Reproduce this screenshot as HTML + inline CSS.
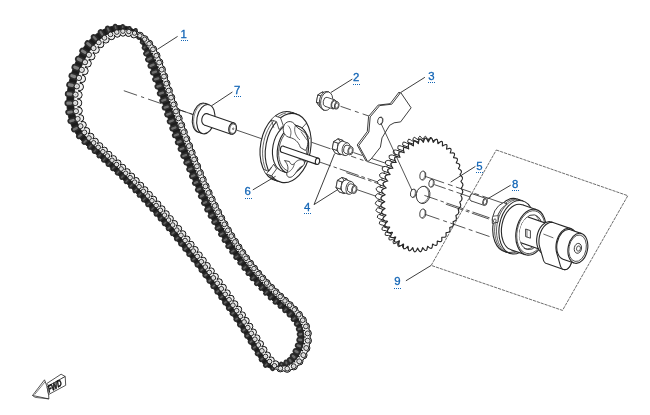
<!DOCTYPE html>
<html><head><meta charset="utf-8"><title>Cam chain parts diagram</title>
<style>
html,body{margin:0;padding:0;background:#fff;}
body{width:650px;height:415px;overflow:hidden;}
svg{display:block;}
.lb{font-family:"Liberation Sans",Arial,sans-serif;font-size:11.4px;fill:#1466b6;stroke:#1466b6;stroke-width:0.3px;}
.fwd{font-family:"Liberation Sans",Arial,sans-serif;font-size:7.5px;font-weight:bold;font-style:italic;fill:#111;}
</style></head><body>
<svg width="650" height="415" viewBox="0 0 650 415">
<defs><filter id="noLcd" x="0" y="0" width="650" height="415" filterUnits="userSpaceOnUse" color-interpolation-filters="sRGB"><feOffset dx="0" dy="0"/></filter></defs>
<rect width="650" height="415" fill="#fff"/>
<line x1="123.8" y1="90.7" x2="194.71" y2="115.12" stroke="#282828" stroke-width="0.8" stroke-dasharray="14 4.2 3.3 4.2"/><line x1="174" y1="108" x2="193" y2="114.5" stroke="#282828" stroke-width="0.8"/><line x1="236.9" y1="130.2" x2="265.27" y2="139.97" stroke="#282828" stroke-width="0.8"/><line x1="319.39" y1="161.95" x2="330.74" y2="165.86" stroke="#282828" stroke-width="0.8"/><line x1="333.57" y1="166.83" x2="388.41" y2="185.72" stroke="#282828" stroke-width="0.8" stroke-dasharray="3.5 3 20 3 3.5 3 14 40"/><line x1="346.37" y1="172.67" x2="388.91" y2="187.32" stroke="#282828" stroke-width="0.8" stroke-dasharray="20 3 3.5 3 14 40"/><line x1="298.36" y1="137.74" x2="330.51" y2="148.81" stroke="#282828" stroke-width="0.8" stroke-dasharray="10 4 30"/><line x1="340.5" y1="106.3" x2="378.32" y2="119.32" stroke="#282828" stroke-width="0.8" stroke-dasharray="11 4.2 4 4.2"/><line x1="353.4" y1="152.5" x2="362.38" y2="155.59" stroke="#282828" stroke-width="0.8"/><line x1="351.1" y1="156.2" x2="364.34" y2="160.76" stroke="#282828" stroke-width="0.8" stroke-dasharray="5.4 3.8 3.8 10"/><line x1="367.7" y1="161.7" x2="387.5" y2="168" stroke="#282828" stroke-width="0.8"/><line x1="372" y1="158.6" x2="388.5" y2="164.2" stroke="#282828" stroke-width="0.8"/><line x1="357.1" y1="189.7" x2="378.85" y2="197.19" stroke="#282828" stroke-width="0.8"/>
<ellipse cx="201.45" cy="117.7" rx="8.88" ry="14.8" transform="rotate(11 201.45 117.7)" fill="#fff" stroke="#282828" stroke-width="1.1" /><path d="M205 103.37L209.35 104.87L202.25 133.53L197.9 132.04Z" fill="#fff" stroke="none"/><path d="M205 103.37L209.35 104.87M197.9 132.04L202.25 133.53" fill="none" stroke="#282828" stroke-width="1.1"/><ellipse cx="205.8" cy="119.2" rx="8.88" ry="14.8" transform="rotate(11 205.8 119.2)" fill="#fff" stroke="#282828" stroke-width="1.1" /><path d="M198.48 132.17L197.57 131.59L196.73 130.83L195.97 129.89L195.3 128.8L194.74 127.56L194.28 126.2L193.94 124.73L193.72 123.16L193.62 121.53L193.64 119.86L193.79 118.16L194.06 116.46L194.44 114.79L194.94 113.16L195.55 111.6L196.25 110.12L197.04 108.76L197.91 107.52L198.85 106.43L199.83 105.49L200.86 104.73L201.91 104.15L202.98 103.75L204.04 103.56" fill="none" stroke="#282828" stroke-width="0.6"/><ellipse cx="205.65" cy="119.32" rx="3.83" ry="5.8" transform="rotate(11 205.65 119.32)" fill="#fff" stroke="#282828" stroke-width="1.1" /><path d="M207.1 113.72L234.05 123L231.15 134.2L204.2 124.92Z" fill="#fff" stroke="none"/><path d="M207.1 113.72L234.05 123M204.2 124.92L231.15 134.2" fill="none" stroke="#282828" stroke-width="1.1"/><ellipse cx="232.6" cy="128.6" rx="3.83" ry="5.8" transform="rotate(11 232.6 128.6)" fill="#fff" stroke="#282828" stroke-width="1.1" /><ellipse cx="232.9" cy="128.7" rx="3.1" ry="4.7" transform="rotate(11 232.9 128.7)" fill="#fff" stroke="#282828" stroke-width="0.7" /><ellipse cx="233.2" cy="128.8" rx="0.63" ry="0.9" transform="rotate(11 233.2 128.8)" fill="#fff" stroke="#282828" stroke-width="0.6" />
<ellipse cx="283" cy="146.21" rx="22.4" ry="35" transform="rotate(11 283 146.21)" fill="#fff" stroke="#282828" stroke-width="1.1" /><path d="M291.62 112.37L296.82 114.16L279.58 181.84L274.38 180.05Z" fill="#fff" stroke="none"/><path d="M291.62 112.37L296.82 114.16M274.38 180.05L279.58 181.84" fill="none" stroke="#282828" stroke-width="1.1"/><ellipse cx="288.2" cy="148" rx="22.4" ry="35" transform="rotate(11 288.2 148)" fill="#fff" stroke="#282828" stroke-width="1.1" /><path d="M276.98 180.94L274.57 179.87L272.3 178.36L270.21 176.42L268.33 174.09L266.68 171.39L265.28 168.36L264.16 165.05L263.33 161.49L262.8 157.73L262.58 153.84L262.67 149.85L263.07 145.82L263.77 141.82L264.76 137.88L266.04 134.07L267.58 130.43L269.37 127.02L271.37 123.88L273.57 121.06L275.92 118.58L278.41 116.49L281 114.82L283.64 113.58L286.31 112.8" fill="none" stroke="#282828" stroke-width="0.7"/><path d="M271.3 119.85L276.5 121.64L279.06 129.52L283.28 125.51L280.49 117.84L275.29 116.05" fill="#fff" stroke="#282828" stroke-width="0.8" stroke-linejoin="round" /><line x1="271.3" y1="119.85" x2="273.86" y2="127.73" stroke="#282828" stroke-width="0.7"/><path d="M266.36 174.01L271.56 175.8L276.59 168.89L273.72 164.18L268.84 171.35L263.64 169.56" fill="#fff" stroke="#282828" stroke-width="0.8" stroke-linejoin="round" /><line x1="266.36" y1="174.01" x2="271.39" y2="167.1" stroke="#282828" stroke-width="0.7"/><path d="M306.65 122.92L301.19 128.99" fill="none" stroke="#282828" stroke-width="0.8" stroke-linejoin="round" /><ellipse cx="288.2" cy="148" rx="15.36" ry="24" transform="rotate(11 288.2 148)" fill="#fff" stroke="#282828" stroke-width="1.1" /><path d="M294.11 124.8L298.84 126.43L287.02 172.83L282.29 171.2Z" fill="#fff" stroke="none"/><path d="M294.11 124.8L298.84 126.43M282.29 171.2L287.02 172.83" fill="none" stroke="#282828" stroke-width="1.1"/><ellipse cx="292.93" cy="149.63" rx="15.36" ry="24" transform="rotate(11 292.93 149.63)" fill="#fff" stroke="#282828" stroke-width="1.1" /><ellipse cx="292.93" cy="149.63" rx="13.95" ry="21.8" transform="rotate(11 292.93 149.63)" fill="#fff" stroke="#282828" stroke-width="0.75" /><g transform="translate(-0.07 0.03)"><path d="M283.5 127 C285 120.5 292.5 119.5 295.5 125.5 C298.5 129.5 302.5 130 305.5 133.5 C309 138.5 308.5 146 305.5 150.5 L300.5 147.5 C298.5 141.5 294.5 138.5 290 137.5 C285 136.5 282.5 132 283.5 127Z" fill="#fff" stroke="#282828" stroke-width="0.85"/><path d="M295.5 125.5 C293.5 130.5 295.5 136 300 140 M290 137.5 C292 132.5 291 128.5 288 125.5" fill="none" stroke="#282828" stroke-width="0.7"/><path d="M301 131.5 L307.5 140.5 M304 129.5 L310 139" fill="none" stroke="#282828" stroke-width="0.7"/><path d="M284.5 160.5 C288 164 289 168.5 287 172.5 C286 176.5 289 178.5 292.5 176.5 C296.5 173.5 297.5 168.5 301.5 166.5 C304.5 165.5 305.5 162.5 303.5 160.5 C300.5 158.5 296.5 160.5 294.5 163.5 C292.5 165.5 290.5 164.5 289.5 161.5Z" fill="#fff" stroke="#282828" stroke-width="0.85"/><path d="M287 172.5 C290.5 171.5 293.5 168.5 294.5 163.5" fill="none" stroke="#282828" stroke-width="0.7"/></g><ellipse cx="282.52" cy="149.25" rx="2.11" ry="3.2" transform="rotate(11 282.52 149.25)" fill="#fff" stroke="#282828" stroke-width="1.1" /><path d="M283.32 146.16L318.3 158.21L316.7 164.39L281.72 152.34Z" fill="#fff" stroke="none"/><path d="M283.32 146.16L318.3 158.21M281.72 152.34L316.7 164.39" fill="none" stroke="#282828" stroke-width="1.1"/><ellipse cx="317.5" cy="161.3" rx="2.11" ry="3.2" transform="rotate(11 317.5 161.3)" fill="#fff" stroke="#282828" stroke-width="1.1" />
<path d="M324.22 103.64L319.61 106.51L316.42 102.12L317.83 94.86L322.44 91.98L325.63 96.37Z" fill="#fff" stroke="#282828" stroke-width="0.8" stroke-linejoin="round" /><path d="M324.22 103.64L319.61 106.51L324.34 108.14L328.95 105.26Z" fill="#fff" stroke="#282828" stroke-width="0.8" stroke-linejoin="round" /><path d="M319.61 106.51L316.42 102.12L321.15 103.75L324.34 108.14Z" fill="#fff" stroke="#282828" stroke-width="0.8" stroke-linejoin="round" /><path d="M316.42 102.12L317.83 94.86L322.56 96.48L321.15 103.75Z" fill="#fff" stroke="#282828" stroke-width="0.8" stroke-linejoin="round" /><path d="M317.83 94.86L322.44 91.98L327.17 93.61L322.56 96.48Z" fill="#fff" stroke="#282828" stroke-width="0.8" stroke-linejoin="round" /><path d="M322.44 91.98L325.63 96.37L330.36 98L327.17 93.61Z" fill="#fff" stroke="#282828" stroke-width="0.8" stroke-linejoin="round" /><path d="M325.63 96.37L324.22 103.64L328.95 105.26L330.36 98Z" fill="#fff" stroke="#282828" stroke-width="0.8" stroke-linejoin="round" /><path d="M328.95 105.26L324.34 108.14L321.15 103.75L322.56 96.48L327.17 93.61L330.36 98Z" fill="#fff" stroke="#282828" stroke-width="0.8" stroke-linejoin="round" /><ellipse cx="325.38" cy="100.74" rx="5.92" ry="9.4" transform="rotate(11 325.38 100.74)" fill="#fff" stroke="#282828" stroke-width="0.8" /><path d="M327.68 91.65L329 92.11L324.4 110.29L323.08 109.84Z" fill="#fff" stroke="none"/><path d="M327.68 91.65L329 92.11M323.08 109.84L324.4 110.29" fill="none" stroke="#282828" stroke-width="0.8"/><ellipse cx="326.7" cy="101.2" rx="5.92" ry="9.4" transform="rotate(11 326.7 101.2)" fill="#fff" stroke="#282828" stroke-width="0.8" /><ellipse cx="326.1" cy="101.8" rx="2.85" ry="4.6" transform="rotate(11 326.1 101.8)" fill="#fff" stroke="#282828" stroke-width="0.8" /><path d="M327.22 97.35L335.07 100.05L332.83 108.95L324.98 106.25Z" fill="#fff" stroke="none"/><path d="M327.22 97.35L335.07 100.05M324.98 106.25L332.83 108.95" fill="none" stroke="#282828" stroke-width="0.8"/><ellipse cx="333.95" cy="104.5" rx="2.85" ry="4.6" transform="rotate(11 333.95 104.5)" fill="#fff" stroke="#282828" stroke-width="0.8" /><ellipse cx="333.95" cy="104.5" rx="2.29" ry="3.7" transform="rotate(11 333.95 104.5)" fill="#fff" stroke="#282828" stroke-width="0.8" /><path d="M334.85 100.92L337.68 101.9L335.89 109.06L333.05 108.08Z" fill="#fff" stroke="none"/><path d="M334.85 100.92L337.68 101.9M333.05 108.08L335.89 109.06" fill="none" stroke="#282828" stroke-width="0.8"/><ellipse cx="336.78" cy="105.48" rx="2.29" ry="3.7" transform="rotate(11 336.78 105.48)" fill="#fff" stroke="#282828" stroke-width="0.8" /><ellipse cx="336.78" cy="105.48" rx="1.61" ry="2.6" transform="rotate(11 336.78 105.48)" fill="#fff" stroke="#282828" stroke-width="0.7" />
<path d="M339.94 150.31L335.4 153.15L332.25 148.81L333.64 141.65L338.18 138.81L341.33 143.14Z" fill="#fff" stroke="#282828" stroke-width="0.8" stroke-linejoin="round" /><path d="M339.94 150.31L335.4 153.15L340.12 154.77L344.67 151.94Z" fill="#fff" stroke="#282828" stroke-width="0.8" stroke-linejoin="round" /><path d="M335.4 153.15L332.25 148.81L336.97 150.44L340.12 154.77Z" fill="#fff" stroke="#282828" stroke-width="0.8" stroke-linejoin="round" /><path d="M332.25 148.81L333.64 141.65L338.37 143.28L336.97 150.44Z" fill="#fff" stroke="#282828" stroke-width="0.8" stroke-linejoin="round" /><path d="M333.64 141.65L338.18 138.81L342.91 140.44L338.37 143.28Z" fill="#fff" stroke="#282828" stroke-width="0.8" stroke-linejoin="round" /><path d="M338.18 138.81L341.33 143.14L346.06 144.77L342.91 140.44Z" fill="#fff" stroke="#282828" stroke-width="0.8" stroke-linejoin="round" /><path d="M341.33 143.14L339.94 150.31L344.67 151.94L346.06 144.77Z" fill="#fff" stroke="#282828" stroke-width="0.8" stroke-linejoin="round" /><path d="M344.67 151.94L340.12 154.77L336.97 150.44L338.37 143.28L342.91 140.44L346.06 144.77Z" fill="#fff" stroke="#282828" stroke-width="0.8" stroke-linejoin="round" /><ellipse cx="341.52" cy="147.61" rx="4.03" ry="6.5" transform="rotate(11 341.52 147.61)" fill="#fff" stroke="#282828" stroke-width="0.8" /><path d="M343.1 141.32L347.82 142.95L344.67 155.52L339.94 153.9Z" fill="#fff" stroke="none"/><path d="M343.1 141.32L347.82 142.95M339.94 153.9L344.67 155.52" fill="none" stroke="#282828" stroke-width="0.8"/><ellipse cx="346.25" cy="149.23" rx="4.03" ry="6.5" transform="rotate(11 346.25 149.23)" fill="#fff" stroke="#282828" stroke-width="0.8" /><ellipse cx="346.25" cy="149.23" rx="2.6" ry="4.2" transform="rotate(11 346.25 149.23)" fill="#fff" stroke="#282828" stroke-width="0.8" /><path d="M347.27 145.17L351.52 146.64L349.48 154.76L345.22 153.3Z" fill="#fff" stroke="none"/><path d="M347.27 145.17L351.52 146.64M345.22 153.3L349.48 154.76" fill="none" stroke="#282828" stroke-width="0.8"/><ellipse cx="350.5" cy="150.7" rx="2.6" ry="4.2" transform="rotate(11 350.5 150.7)" fill="#fff" stroke="#282828" stroke-width="0.8" /><ellipse cx="350.5" cy="150.7" rx="1.87" ry="3.02" transform="rotate(11 350.5 150.7)" fill="#fff" stroke="#282828" stroke-width="0.7" /><path d="M343.74 189.01L339.2 191.85L336.05 187.51L337.44 180.35L341.98 177.51L345.13 181.84Z" fill="#fff" stroke="#282828" stroke-width="0.8" stroke-linejoin="round" /><path d="M343.74 189.01L339.2 191.85L343.92 193.47L348.47 190.64Z" fill="#fff" stroke="#282828" stroke-width="0.8" stroke-linejoin="round" /><path d="M339.2 191.85L336.05 187.51L340.77 189.14L343.92 193.47Z" fill="#fff" stroke="#282828" stroke-width="0.8" stroke-linejoin="round" /><path d="M336.05 187.51L337.44 180.35L342.17 181.98L340.77 189.14Z" fill="#fff" stroke="#282828" stroke-width="0.8" stroke-linejoin="round" /><path d="M337.44 180.35L341.98 177.51L346.71 179.14L342.17 181.98Z" fill="#fff" stroke="#282828" stroke-width="0.8" stroke-linejoin="round" /><path d="M341.98 177.51L345.13 181.84L349.86 183.47L346.71 179.14Z" fill="#fff" stroke="#282828" stroke-width="0.8" stroke-linejoin="round" /><path d="M345.13 181.84L343.74 189.01L348.47 190.64L349.86 183.47Z" fill="#fff" stroke="#282828" stroke-width="0.8" stroke-linejoin="round" /><path d="M348.47 190.64L343.92 193.47L340.77 189.14L342.17 181.98L346.71 179.14L349.86 183.47Z" fill="#fff" stroke="#282828" stroke-width="0.8" stroke-linejoin="round" /><ellipse cx="345.32" cy="186.31" rx="4.03" ry="6.5" transform="rotate(11 345.32 186.31)" fill="#fff" stroke="#282828" stroke-width="0.8" /><path d="M346.9 180.02L351.62 181.65L348.47 194.22L343.74 192.6Z" fill="#fff" stroke="none"/><path d="M346.9 180.02L351.62 181.65M343.74 192.6L348.47 194.22" fill="none" stroke="#282828" stroke-width="0.8"/><ellipse cx="350.05" cy="187.93" rx="4.03" ry="6.5" transform="rotate(11 350.05 187.93)" fill="#fff" stroke="#282828" stroke-width="0.8" /><ellipse cx="350.05" cy="187.93" rx="2.6" ry="4.2" transform="rotate(11 350.05 187.93)" fill="#fff" stroke="#282828" stroke-width="0.8" /><path d="M351.07 183.87L355.32 185.34L353.28 193.46L349.02 192Z" fill="#fff" stroke="none"/><path d="M351.07 183.87L355.32 185.34M349.02 192L353.28 193.46" fill="none" stroke="#282828" stroke-width="0.8"/><ellipse cx="354.3" cy="189.4" rx="2.6" ry="4.2" transform="rotate(11 354.3 189.4)" fill="#fff" stroke="#282828" stroke-width="0.8" /><ellipse cx="354.3" cy="189.4" rx="1.87" ry="3.02" transform="rotate(11 354.3 189.4)" fill="#fff" stroke="#282828" stroke-width="0.7" />
<path d="M399.1 92L409.5 107.3L399 121.4L392.6 122.3L388 124.8L380.4 137.4L378.8 146.7L369.5 158.5L366.1 161.2L357.2 145L367.3 131.5L368.6 116.4L378.1 105.1L390.2 103.7Z" fill="#fff" stroke="#282828" stroke-width="0.9" stroke-linejoin="round" /><path d="M400.7 92.5L411.1 107.8L400.6 121.9L394.2 122.8L389.6 125.3L382 137.9L380.4 147.2L371.1 159L367.7 161.7L358.8 145.5L368.9 132L370.2 116.9L379.7 105.6L391.8 104.2Z" fill="#fff" stroke="#282828" stroke-width="0.9" stroke-linejoin="round" /><ellipse cx="380.3" cy="120.8" rx="2.6" ry="3.8" transform="rotate(14 380.3 120.8)" fill="#fff" stroke="#282828" stroke-width="0.8"/><path d="M379.4 117.6 A2.2 3.4 14 0 1 380.6 124.3" fill="none" stroke="#282828" stroke-width="0.6"/>
<ellipse cx="417.33" cy="193.05" rx="37.52" ry="53.6" transform="rotate(11 417.33 193.05)" fill="#fff" stroke="none" stroke-width="0" /><path d="M413.64 246.3L411.39 246.33L409.16 246.18L406.96 245.84L404.8 245.31L402.68 244.61L400.62 243.72L398.61 242.66L396.66 241.42L394.79 240.02L393 238.45L391.29 236.72L389.67 234.85L388.15 232.82L386.73 230.66L385.42 228.36L384.22 225.95L383.13 223.41L382.16 220.78L381.32 218.04L380.6 215.22L380.01 212.32L379.55 209.36L379.22 206.33L379.02 203.26L378.96 200.16L379.03 197.03L379.24 193.89L379.57 190.74L380.04 187.6L380.64 184.48L381.37 181.39L382.22 178.34L383.19 175.34L384.29 172.41L385.5 169.54L386.81 166.76L388.24 164.07L389.77 161.48L391.39 159L393.11 156.64L394.9 154.41L396.78 152.31L398.73 150.35L400.74 148.54L402.81 146.89L404.93 145.4L407.1 144.07L409.3 142.92L411.53 141.93L413.77 141.13L416.03 140.51L418.3 140.07L420.56 139.82L422.81 139.75L425.04 139.87L427.25 140.17L429.42 140.66L431.55 141.33L433.62 142.18L435.65 143.21" fill="none" stroke="#282828" stroke-width="0.85"/><path d="M422.14 249.03L421.67 250.32L420.47 251.69L419.06 250.6L418.39 249.4L412.71 247.45L413.39 248.65L414.79 249.73L415.99 248.37L416.47 247.08Z" fill="#fff" stroke="#282828" stroke-width="1" stroke-linejoin="round" /><path d="M416.93 249.41L416.24 250.64L414.82 251.81L413.66 250.43L413.23 249.07L407.55 247.12L407.98 248.47L409.15 249.86L410.57 248.69L411.26 247.45Z" fill="#fff" stroke="#282828" stroke-width="1" stroke-linejoin="round" /><path d="M411.81 248.8L410.9 249.91L409.29 250.78L408.4 249.19L408.22 247.78L402.55 245.82L402.73 247.23L403.61 248.82L405.22 247.95L406.13 246.85Z" fill="#fff" stroke="#282828" stroke-width="1" stroke-linejoin="round" /><path d="M406.86 247.25L405.76 248.16L404.02 248.69L403.41 246.98L403.47 245.56L397.8 243.61L397.73 245.02L398.35 246.73L400.09 246.2L401.19 245.3Z" fill="#fff" stroke="#282828" stroke-width="1" stroke-linejoin="round" /><path d="M402.2 244.78L400.95 245.46L399.14 245.64L398.79 243.85L399.07 242.46L393.4 240.51L393.11 241.9L393.46 243.69L395.28 243.51L396.53 242.83Z" fill="#fff" stroke="#282828" stroke-width="1" stroke-linejoin="round" /><path d="M397.91 241.45L396.56 241.89L394.72 241.72L394.62 239.89L395.09 238.55L389.42 236.6L388.94 237.93L389.05 239.77L390.88 239.94L392.24 239.49Z" fill="#fff" stroke="#282828" stroke-width="1" stroke-linejoin="round" /><path d="M394.06 237.32L392.65 237.52L390.85 237.03L390.97 235.16L391.6 233.89L385.93 231.94L385.29 233.21L385.18 235.07L386.98 235.56L388.39 235.36Z" fill="#fff" stroke="#282828" stroke-width="1" stroke-linejoin="round" /><path d="M390.72 232.46L389.29 232.44L387.57 231.64L387.89 229.77L388.66 228.57L382.99 226.62L382.21 227.82L381.9 229.69L383.62 230.48L385.05 230.51Z" fill="#fff" stroke="#282828" stroke-width="1" stroke-linejoin="round" /><path d="M387.94 226.98L386.52 226.74L384.91 225.68L385.42 223.81L386.31 222.69L380.64 220.73L379.75 221.86L379.24 223.72L380.85 224.78L382.27 225.02Z" fill="#fff" stroke="#282828" stroke-width="1" stroke-linejoin="round" /><path d="M385.77 220.95L384.39 220.52L382.91 219.23L383.59 217.38L384.59 216.34L378.92 214.38L377.92 215.43L377.24 217.27L378.71 218.57L380.09 219Z" fill="#fff" stroke="#282828" stroke-width="1" stroke-linejoin="round" /><path d="M384.23 214.49L382.91 213.89L381.58 212.4L382.43 210.59L383.53 209.63L377.85 207.68L376.76 208.63L375.91 210.44L377.23 211.93L378.55 212.54Z" fill="#fff" stroke="#282828" stroke-width="1" stroke-linejoin="round" /><path d="M383.35 207.7L382.1 206.95L380.94 205.29L381.95 203.54L383.13 202.68L377.46 200.72L376.28 201.59L375.27 203.34L376.43 204.99L377.67 205.75Z" fill="#fff" stroke="#282828" stroke-width="1" stroke-linejoin="round" /><path d="M383.14 200.7L381.98 199.82L380.99 198.03L382.16 196.36L383.41 195.6L377.73 193.65L376.49 194.41L375.31 196.08L376.3 197.86L377.47 198.75Z" fill="#fff" stroke="#282828" stroke-width="1" stroke-linejoin="round" /><path d="M383.61 193.61L382.53 192.61L381.72 190.73L383.04 189.16L384.35 188.51L378.68 186.56L377.37 187.21L376.05 188.78L376.86 190.66L377.93 191.66Z" fill="#fff" stroke="#282828" stroke-width="1" stroke-linejoin="round" /><path d="M384.74 186.54L383.76 185.45L383.13 183.5L384.58 182.06L385.95 181.53L380.28 179.58L378.91 180.1L377.45 181.54L378.09 183.49L379.06 184.59Z" fill="#fff" stroke="#282828" stroke-width="1" stroke-linejoin="round" /><path d="M386.51 179.61L385.64 178.44L385.18 176.45L386.77 175.16L388.18 174.78L382.51 172.83L381.09 173.21L379.51 174.5L379.97 176.48L380.84 177.66Z" fill="#fff" stroke="#282828" stroke-width="1" stroke-linejoin="round" /><path d="M388.91 172.95L388.14 171.7L387.86 169.7L389.55 168.6L390.99 168.37L385.32 166.42L383.88 166.65L382.19 167.75L382.47 169.75L383.24 170.99Z" fill="#fff" stroke="#282828" stroke-width="1" stroke-linejoin="round" /><path d="M391.88 166.65L391.23 165.35L391.12 163.36L392.9 162.47L394.35 162.41L388.68 160.45L387.23 160.52L385.44 161.4L385.55 163.4L386.21 164.7Z" fill="#fff" stroke="#282828" stroke-width="1" stroke-linejoin="round" /><path d="M395.38 160.83L394.85 159.49L394.91 157.52L396.76 156.87L398.2 156.99L392.53 155.04L391.09 154.92L389.23 155.57L389.17 157.53L389.71 158.88Z" fill="#fff" stroke="#282828" stroke-width="1" stroke-linejoin="round" /><path d="M399.36 155.59L398.95 154.21L399.18 152.29L401.07 151.91L402.47 152.22L396.8 150.27L395.4 149.96L393.51 150.34L393.27 152.26L393.68 153.63Z" fill="#fff" stroke="#282828" stroke-width="1" stroke-linejoin="round" /><path d="M403.74 151.01L403.47 149.61L403.88 147.75L405.77 147.66L407.11 148.17L401.43 146.22L400.1 145.71L398.2 145.8L397.8 147.65L398.06 149.06Z" fill="#fff" stroke="#282828" stroke-width="1" stroke-linejoin="round" /><path d="M408.46 147.18L408.34 145.76L408.94 143.99L410.79 144.21L412.02 144.92L406.35 142.97L405.11 142.25L403.26 142.04L402.67 143.81L402.78 145.23Z" fill="#fff" stroke="#282828" stroke-width="1" stroke-linejoin="round" /><path d="M413.44 144.17L413.5 142.75L414.29 141.09L416.05 141.62L417.14 142.53L411.46 140.58L410.37 139.67L408.61 139.13L407.82 140.8L407.76 142.21Z" fill="#fff" stroke="#282828" stroke-width="1" stroke-linejoin="round" /><path d="M418.59 142.03L418.85 140.63L419.85 139.11L421.46 139.95L422.36 141.05L416.69 139.1L415.79 138L414.17 137.15L413.18 138.68L412.92 140.07Z" fill="#fff" stroke="#282828" stroke-width="1" stroke-linejoin="round" /><path d="M423.84 140.81L424.31 139.47L425.52 138.11L426.93 139.26L427.61 140.51L421.94 138.56L421.26 137.3L419.84 136.16L418.63 137.51L418.16 138.85Z" fill="#fff" stroke="#282828" stroke-width="1" stroke-linejoin="round" /><path d="M429.07 140.53L429.76 139.29L431.18 138.15L432.35 139.56L432.77 140.92L427.1 138.97L426.67 137.6L425.51 136.19L424.09 137.33L423.4 138.58Z" fill="#fff" stroke="#282828" stroke-width="1" stroke-linejoin="round" /><path d="M434.19 141.21L435.1 140.11L436.7 139.26L437.58 140.88L437.76 142.28L432.08 140.33L431.91 138.92L431.03 137.31L429.43 138.16L428.52 139.25Z" fill="#fff" stroke="#282828" stroke-width="1" stroke-linejoin="round" /><path d="M439.1 142.83L440.18 141.97L441.89 141.49L442.49 143.21L442.44 144.58L436.77 142.63L436.81 141.26L436.21 139.54L434.51 140.02L433.43 140.88Z" fill="#fff" stroke="#282828" stroke-width="1" stroke-linejoin="round" /><path d="M459.83 202.16L459.97 202.7L460.18 203.25L460.38 203.81L460.55 204.37L460.65 204.92L460.68 205.45L460.61 205.95L460.44 206.44L460.18 206.9L459.84 207.34L459.43 207.75L459 208.16L458.56 208.55L458.18 208.97L458.28 209.51L458.44 210.09L458.6 210.66L458.73 211.23L458.79 211.79L458.78 212.32L458.67 212.81L458.46 213.28L458.16 213.71L457.77 214.1L457.32 214.47L456.84 214.82L456.35 215.17L455.93 215.53L455.99 216.09L456.12 216.67L456.25 217.27L456.34 217.85L456.37 218.4L456.32 218.93L456.18 219.41L455.93 219.85L455.58 220.24L455.15 220.58L454.66 220.89L454.12 221.17L453.58 221.45L453.11 221.75L453.14 222.31L453.25 222.91L453.35 223.52L453.42 224.11L453.43 224.67L453.35 225.19L453.16 225.65L452.88 226.05L452.49 226.39L452.01 226.66L451.47 226.89L450.88 227.09L450.3 227.28L449.78 227.51L449.79 228.07L449.87 228.69L449.95 229.32L450 229.93L449.98 230.49L449.87 231L449.66 231.44L449.34 231.79L448.91 232.06L448.39 232.26L447.81 232.4L447.18 232.49L446.55 232.58L445.99 232.71L445.98 233.28L446.04 233.93L446.1 234.58L446.12 235.21L446.08 235.78L445.94 236.28L445.7 236.68L445.34 236.98L444.88 237.18L444.33 237.28L443.71 237.3L443.05 237.28L442.39 237.24L441.81 237.27L441.77 237.85L441.8 238.52L441.84 239.21L441.83 239.86L441.75 240.44L441.58 240.93L441.31 241.29L440.93 241.53L440.44 241.65L439.87 241.64L439.24 241.54L438.56 241.37L437.9 241.19L437.31 241.1L437.23 241.7L437.23 242.4L437.22 243.12L437.17 243.8L437.05 244.39L436.84 244.86L436.54 245.19L436.14 245.36L435.64 245.38L435.07 245.25L434.44 245.01L433.78 244.7L433.13 244.37L432.56 244.15L432.44 244.76L432.37 245.5L432.3 246.25L432.19 246.95L432.01 247.55L431.77 248L431.43 248.29L431.02 248.38L430.52 248.29L429.97 248.04L429.38 247.65L428.77 247.19L428.18 246.71L427.65 246.35L427.46 246.97L427.31 247.73L427.15 248.51L426.96 249.23L426.71 249.83L426.41 250.25L426.05 250.48L425.63 250.5L425.16 250.3L424.66 249.92L424.14 249.39L423.62 248.78L423.11 248.16L422.65 247.68L422.39 248.29L422.13 249.06L421.86 249.85L421.56 250.56L421.22 251.14L420.86 251.52L420.47 251.69L420.06 251.62L419.64 251.32L419.21 250.82L418.8 250.17L418.4 249.43L418.03 248.69L417.67 248.1L417.3 248.68L416.92 249.44L416.51 250.2L416.09 250.87L415.66 251.4L415.24 251.72L414.82 251.81L414.43 251.66L414.08 251.27L413.76 250.68L413.48 249.94L413.24 249.1L413.01 248.27L412.77 247.62L412.3 248.14L411.78 248.83L411.24 249.51L410.7 250.1L410.18 250.54L409.71 250.77L409.29 250.78L408.94 250.55L408.66 250.1L408.46 249.46L408.32 248.67L408.23 247.81L408.16 246.95L408.05 246.23L407.48 246.69L406.84 247.27L406.18 247.84L405.54 248.31L404.95 248.63L404.44 248.76L404.02 248.69L403.71 248.4L403.51 247.91L403.42 247.25L403.41 246.46L403.47 245.6L403.55 244.73L403.59 243.97L402.92 244.34L402.17 244.8L401.42 245.23L400.7 245.57L400.07 245.77L399.54 245.8L399.14 245.64L398.87 245.3L398.75 244.78L398.76 244.12L398.87 243.34L399.06 242.5L399.29 241.64L399.46 240.87L398.71 241.13L397.88 241.46L397.05 241.75L396.29 241.95L395.63 242.02L395.1 241.95L394.72 241.72L394.51 241.34L394.46 240.8L394.55 240.15L394.77 239.39L395.08 238.58L395.43 237.75L395.73 236.99L394.91 237.14L394.03 237.32L393.16 237.47L392.38 237.53L391.71 237.49L391.2 237.32L390.85 237.03L390.69 236.6L390.7 236.06L390.87 235.41L391.18 234.69L391.58 233.92L392.04 233.13L392.47 232.38L391.6 232.42L390.69 232.46L389.81 232.47L389.02 232.4L388.37 232.25L387.88 232L387.57 231.64L387.45 231.19L387.52 230.64L387.76 230.01L388.15 229.33L388.64 228.6L389.19 227.86L389.72 227.14L388.83 227.06L387.91 226.97L387.03 226.85L386.26 226.66L385.63 226.41L385.18 226.08L384.91 225.68L384.85 225.2L384.97 224.65L385.27 224.04L385.72 223.39L386.29 222.71L386.92 222.02L387.55 221.35L386.65 221.15L385.73 220.94L384.88 220.7L384.14 220.41L383.54 220.07L383.13 219.68L382.91 219.23L382.89 218.73L383.07 218.18L383.43 217.6L383.94 216.99L384.57 216.36L385.27 215.73L385.99 215.11L385.09 214.8L384.19 214.48L383.37 214.13L382.67 213.75L382.12 213.33L381.75 212.88L381.58 212.4L381.61 211.88L381.84 211.35L382.25 210.79L382.81 210.22L383.5 209.65L384.26 209.08L385.06 208.52L384.17 208.11L383.31 207.69L382.54 207.24L381.88 206.78L381.38 206.3L381.06 205.8L380.94 205.29L381.02 204.78L381.29 204.25L381.75 203.73L382.36 203.21L383.1 202.7L383.92 202.19L384.78 201.7L383.92 201.2L383.11 200.68L382.38 200.16L381.77 199.63L381.33 199.09L381.06 198.56L380.99 198.03L381.12 197.52L381.44 197.02L381.94 196.53L382.59 196.06L383.37 195.62L384.24 195.19L385.15 194.77L384.34 194.18L383.58 193.59L382.9 192.99L382.35 192.4L381.96 191.82L381.74 191.26L381.72 190.73L381.9 190.22L382.26 189.75L382.81 189.31L383.5 188.9L384.32 188.52L385.22 188.17L386.17 187.84L385.42 187.18L384.71 186.51L384.09 185.86L383.6 185.22L383.26 184.61L383.1 184.03L383.13 183.5L383.35 183.01L383.76 182.57L384.34 182.18L385.07 181.84L385.92 181.54L386.85 181.28L387.82 181.03L387.13 180.31L386.49 179.58L385.94 178.88L385.5 178.2L385.22 177.56L385.11 176.97L385.18 176.45L385.45 175.99L385.89 175.59L386.51 175.27L387.27 175L388.14 174.79L389.09 174.61L390.07 174.47L389.46 173.69L388.89 172.91L388.4 172.16L388.02 171.45L387.8 170.8L387.74 170.21L387.86 169.7L388.16 169.27L388.64 168.93L389.29 168.67L390.07 168.49L390.96 168.37L391.91 168.3L392.89 168.25L392.36 167.43L391.86 166.62L391.44 165.83L391.13 165.09L390.96 164.43L390.95 163.84L391.12 163.36L391.46 162.97L391.96 162.69L392.63 162.51L393.42 162.42L394.31 162.4L395.27 162.44L396.22 162.49L395.78 161.65L395.37 160.8L395.02 159.98L394.77 159.22L394.66 158.55L394.7 157.98L394.91 157.52L395.28 157.19L395.81 156.97L396.49 156.88L397.28 156.89L398.16 156.99L399.09 157.14L400.01 157.29L399.67 156.43L399.34 155.55L399.07 154.71L398.9 153.94L398.85 153.27L398.94 152.71L399.18 152.29L399.58 152.01L400.12 151.88L400.8 151.88L401.58 152L402.44 152.21L403.33 152.48L404.19 152.73L403.96 151.87L403.73 150.98L403.54 150.12L403.45 149.34L403.46 148.66L403.6 148.13L403.88 147.75L404.3 147.54L404.84 147.49L405.51 147.59L406.26 147.83L407.07 148.16L407.91 148.55L408.69 148.9L408.58 148.05L408.45 147.14L408.36 146.28L408.35 145.49L408.43 144.83L408.62 144.32L408.94 143.99L409.37 143.85L409.91 143.89L410.54 144.1L411.24 144.45L411.99 144.91L412.74 145.41L413.44 145.85L413.45 145.03L413.44 144.13L413.46 143.26L413.53 142.48L413.69 141.84L413.94 141.36L414.29 141.09L414.72 141.01L415.24 141.15L415.82 141.46L416.46 141.94L417.11 142.51L417.76 143.13L418.35 143.65L418.48 142.87L418.6 141.99L418.74 141.14L418.92 140.37L419.17 139.76L419.47 139.32L419.85 139.11L420.28 139.11L420.75 139.34L421.27 139.76L421.81 140.34L422.34 141.02L422.87 141.73L423.35 142.32L423.6 141.61L423.85 140.77L424.12 139.95L424.42 139.22L424.75 138.64L425.12 138.27L425.52 138.11L425.93 138.2L426.35 138.51L426.78 139.03L427.2 139.71L427.6 140.48L427.97 141.26L428.33 141.9L428.7 141.27L429.09 140.5L429.49 139.73L429.91 139.06L430.34 138.54L430.77 138.23L431.18 138.15L431.57 138.31L431.92 138.7L432.24 139.3L432.52 140.05L432.77 140.89L432.99 141.72L433.23 142.38L433.69 141.86L434.21 141.18L434.75 140.5L435.29 139.91L435.81 139.48L436.28 139.26L436.7 139.26L437.05 139.5L437.32 139.96L437.52 140.61L437.66 141.39L437.75 142.25L437.83 143.09L437.95 143.77L438.5 143.36L439.13 142.81L439.77 142.27L440.4 141.82L440.98 141.52L441.48 141.4L441.89 141.49L442.19 141.79L442.38 142.29L442.47 142.94L442.49 143.72L442.45 144.55L442.39 145.36L442.41 146.03L443.02 145.76L443.72 145.37L444.43 144.99L445.11 144.7L445.72 144.53L446.22 144.53L446.61 144.7L446.86 145.05L446.98 145.56L446.98 146.2L446.9 146.94L446.75 147.72L446.6 148.49L446.54 149.13L447.17 149L447.9 148.78L448.64 148.57L449.33 148.44L449.94 148.41L450.43 148.51L450.78 148.75L450.98 149.14L451.04 149.65L450.98 150.27L450.82 150.97L450.6 151.69L450.39 152.4L450.27 153.01L450.89 153.02L451.61 152.96L452.34 152.92L453.01 152.93L453.59 153.03L454.05 153.22L454.36 153.53L454.52 153.95L454.53 154.47L454.42 155.06L454.21 155.71L453.95 156.38L453.69 157.03L453.53 157.62L454.12 157.75L454.8 157.84L455.49 157.94L456.12 158.08L456.65 158.29L457.06 158.57L457.32 158.94L457.43 159.38L457.41 159.89L457.26 160.46L457.02 161.07L456.74 161.69L456.45 162.3L456.28 162.86L456.8 163.1L457.43 163.31L458.05 163.53L458.62 163.79L459.09 164.09L459.44 164.45L459.66 164.86L459.73 165.32L459.67 165.84L459.5 166.38L459.24 166.96L458.94 167.54L458.65 168.11L458.45 168.65L458.91 168.98L459.46 169.3L460.01 169.62L460.5 169.97L460.91 170.34L461.2 170.76L461.37 171.2L461.4 171.69L461.31 172.2L461.12 172.73L460.85 173.28L460.54 173.83L460.23 174.37L460.01 174.89L460.4 175.3L460.88 175.69L461.34 176.09L461.76 176.51L462.1 176.95L462.33 177.41L462.45 177.88L462.44 178.38L462.33 178.89L462.11 179.41L461.82 179.93L461.5 180.45L461.18 180.97L460.94 181.48L461.26 181.94L461.66 182.39L462.05 182.86L462.39 183.33L462.66 183.81L462.84 184.3L462.91 184.79L462.86 185.3L462.71 185.8L462.47 186.31L462.17 186.81L461.82 187.31L461.49 187.81L461.22 188.3L461.48 188.79L461.8 189.3L462.12 189.8L462.4 190.31L462.6 190.82L462.72 191.34L462.74 191.84L462.66 192.35L462.47 192.84L462.21 193.33L461.88 193.81L461.51 194.29L461.14 194.76L460.85 195.23L461.04 195.75L461.3 196.29L461.56 196.82L461.78 197.36L461.93 197.89L462 198.42L461.97 198.93L461.85 199.43L461.63 199.91L461.32 200.38L460.96 200.83L460.56 201.27L460.16 201.71Z" fill="#fff" stroke="#282828" stroke-width="1.15" stroke-linejoin="round" />
<ellipse cx="422.8" cy="175.6" rx="2.97" ry="4.5" transform="rotate(11 422.8 175.6)" fill="#fff" stroke="#282828" stroke-width="0.8" /><path d="M423.48 171.18L423.76 171.39L424.01 171.64L424.23 171.94L424.43 172.28L424.6 172.65L424.74 173.06L424.84 173.49L424.91 173.95L424.94 174.42L424.93 174.9L424.89 175.38L424.82 175.87L424.7 176.34L424.56 176.81L424.38 177.26L424.18 177.68L423.95 178.08L423.69 178.44L423.41 178.76L423.12 179.05L422.81 179.29L422.48 179.48L422.16 179.62L421.83 179.71" fill="none" stroke="#282828" stroke-width="0.6"/><ellipse cx="431.5" cy="183.3" rx="2.64" ry="4" transform="rotate(11 431.5 183.3)" fill="#fff" stroke="#282828" stroke-width="0.8" /><path d="M432.01 179.34L432.25 179.52L432.47 179.75L432.67 180.02L432.85 180.32L433 180.65L433.12 181.01L433.21 181.39L433.27 181.8L433.3 182.21L433.3 182.64L433.26 183.07L433.19 183.5L433.09 183.93L432.96 184.34L432.81 184.74L432.63 185.12L432.42 185.47L432.19 185.79L431.94 186.08L431.68 186.33L431.41 186.54L431.12 186.72L430.83 186.84L430.53 186.92" fill="none" stroke="#282828" stroke-width="0.6"/><ellipse cx="413.3" cy="193.3" rx="2.84" ry="4.3" transform="rotate(11 413.3 193.3)" fill="#fff" stroke="#282828" stroke-width="0.8" /><path d="M413.91 189.06L414.17 189.26L414.41 189.51L414.63 189.79L414.82 190.11L414.98 190.47L415.11 190.86L415.21 191.27L415.27 191.71L415.3 192.16L415.3 192.62L415.26 193.08L415.19 193.54L415.08 194L414.94 194.44L414.77 194.87L414.58 195.27L414.36 195.65L414.11 196L413.85 196.31L413.56 196.58L413.27 196.81L412.96 196.99L412.65 197.13L412.33 197.22" fill="none" stroke="#282828" stroke-width="0.6"/><ellipse cx="422.8" cy="213.6" rx="3.04" ry="4.6" transform="rotate(11 422.8 213.6)" fill="#fff" stroke="#282828" stroke-width="0.8" /><path d="M423.52 209.09L423.8 209.3L424.05 209.56L424.29 209.87L424.49 210.21L424.66 210.6L424.8 211.01L424.9 211.45L424.97 211.92L425 212.4L425 212.89L424.96 213.38L424.88 213.88L424.77 214.37L424.62 214.84L424.44 215.3L424.23 215.73L423.99 216.14L423.73 216.51L423.45 216.84L423.14 217.13L422.83 217.38L422.5 217.57L422.16 217.72L421.82 217.81" fill="none" stroke="#282828" stroke-width="0.6"/><ellipse cx="423.1" cy="194.9" rx="6.79" ry="8.7" transform="rotate(11 423.1 194.9)" fill="#fff" stroke="#282828" stroke-width="0.85" /><path d="M424.59 186.31L425.3 186.69L425.96 187.17L426.57 187.75L427.11 188.42L427.58 189.18L427.97 190L428.28 190.89L428.5 191.82L428.63 192.8L428.66 193.79L428.61 194.79L428.46 195.79L428.22 196.78L427.9 197.73L427.49 198.64L427.01 199.49L426.45 200.27L425.84 200.98L425.16 201.6L424.45 202.12L423.69 202.54L422.91 202.85L422.12 203.05L421.32 203.14" fill="none" stroke="#282828" stroke-width="0.7"/><line x1="381" y1="123.4" x2="411.9" y2="190.2" stroke="#282828" stroke-width="0.8"/>
<line x1="425.2" y1="176.4" x2="444.11" y2="182.91" stroke="#282828" stroke-width="0.8"/><line x1="447.89" y1="184.21" x2="504.62" y2="203.75" stroke="#282828" stroke-width="0.8" stroke-dasharray="5 3.5 16 3.5 5 3.5 60"/><line x1="434.3" y1="184.6" x2="445.65" y2="188.51" stroke="#282828" stroke-width="0.8"/><line x1="448.48" y1="189.48" x2="472.12" y2="197.62" stroke="#282828" stroke-width="0.8" stroke-dasharray="5 3.5 14 3.5"/><line x1="424.4" y1="195.4" x2="437.64" y2="199.96" stroke="#282828" stroke-width="0.8"/><line x1="440.47" y1="200.93" x2="498.15" y2="220.79" stroke="#282828" stroke-width="0.8" stroke-dasharray="3.5 3 18 3 3.5 3 18 3"/><line x1="445.8" y1="204.16" x2="498.75" y2="222.39" stroke="#282828" stroke-width="0.8" stroke-dasharray="18 3 3.5 3"/><line x1="425.2" y1="214.4" x2="439.38" y2="219.28" stroke="#282828" stroke-width="0.8"/><line x1="443.16" y1="220.59" x2="489.5" y2="236.54" stroke="#282828" stroke-width="0.8" stroke-dasharray="4 3.5 16 3.5"/>
<ellipse cx="471.95" cy="197.41" rx="2.23" ry="3.6" transform="rotate(11 471.95 197.41)" fill="#fff" stroke="#282828" stroke-width="0.85" /><path d="M472.83 193.92L485.87 198.42L484.13 205.38L471.08 200.89Z" fill="#fff" stroke="none"/><path d="M472.83 193.92L485.87 198.42M471.08 200.89L484.13 205.38" fill="none" stroke="#282828" stroke-width="0.85"/><ellipse cx="485" cy="201.9" rx="2.23" ry="3.6" transform="rotate(11 485 201.9)" fill="#fff" stroke="#282828" stroke-width="0.85" /><ellipse cx="485" cy="201.9" rx="1.61" ry="2.6" transform="rotate(11 485 201.9)" fill="#fff" stroke="#282828" stroke-width="0.7" />
<ellipse cx="510.46" cy="225.12" rx="17.28" ry="27" transform="rotate(11 510.46 225.12)" fill="#fff" stroke="#282828" stroke-width="1.1" /><path d="M517.11 199.01L523.26 201.13L509.96 253.33L503.81 251.22Z" fill="#fff" stroke="none"/><path d="M517.11 199.01L523.26 201.13M503.81 251.22L509.96 253.33" fill="none" stroke="#282828" stroke-width="1.1"/><ellipse cx="516.61" cy="227.23" rx="17.28" ry="27" transform="rotate(11 516.61 227.23)" fill="#fff" stroke="#282828" stroke-width="1.1" /><path d="M516.37 250.37L513.8 251.62L511.2 252.32L508.62 252.45L506.13 252.01L503.76 250.99L501.59 249.44L499.64 247.37L497.97 244.84L496.61 241.9L495.58 238.61L494.92 235.04L494.64 231.28L494.73 227.39L495.21 223.47L496.05 219.6L497.25 215.87L498.77 212.34L500.58 209.11L502.65 206.23L504.92 203.78L507.36 201.79L509.9 200.33L512.5 199.41L515.09 199.06" fill="none" stroke="#282828" stroke-width="0.75"/><path d="M518.26 251.02L515.69 252.28L513.09 252.98L510.51 253.1L508.02 252.66L505.65 251.64L503.48 250.09L501.53 248.02L499.86 245.49L498.5 242.55L497.47 239.26L496.81 235.69L496.53 231.93L496.62 228.04L497.1 224.12L497.94 220.25L499.14 216.52L500.66 212.99L502.47 209.76L504.54 206.88L506.81 204.43L509.25 202.44L511.79 200.98L514.39 200.06L516.98 199.71" fill="none" stroke="#282828" stroke-width="0.75"/><path d="M503.4 202.6L498.6 205.8L494.8 210.8L492.4 217.8L492.3 223.4L498 222.2L498.2 214.4L501 209.4L504.6 205.8L507 203.8Z" fill="#fff" stroke="#282828" stroke-width="0.9" stroke-linejoin="round" /><ellipse cx="494.8" cy="220.8" rx="1.3" ry="1.9" transform="rotate(11 494.8 220.8)" fill="#fff" stroke="#282828" stroke-width="0.7"/><line x1="493" y1="216.2" x2="498.1" y2="215.6" stroke="#282828" stroke-width="0.7"/><ellipse cx="516.61" cy="227.23" rx="14.85" ry="23.2" transform="rotate(11 516.61 227.23)" fill="#fff" stroke="#282828" stroke-width="1.1" /><path d="M522.32 204.8L536.69 209.75L525.26 254.61L510.89 249.66Z" fill="#fff" stroke="none"/><path d="M522.32 204.8L536.69 209.75M510.89 249.66L525.26 254.61" fill="none" stroke="#282828" stroke-width="1.1"/><ellipse cx="530.98" cy="232.18" rx="14.85" ry="23.2" transform="rotate(11 530.98 232.18)" fill="#fff" stroke="#282828" stroke-width="1.1" /><ellipse cx="530.98" cy="232.18" rx="13.89" ry="21.7" transform="rotate(11 530.98 232.18)" fill="#fff" stroke="#282828" stroke-width="0.75" /><ellipse cx="530.98" cy="232.18" rx="11.26" ry="17.6" transform="rotate(11 530.98 232.18)" fill="#fff" stroke="#282828" stroke-width="0.85" /><path d="M535.92 215.98L537 217.08L537.97 218.39L538.79 219.91L539.47 221.6L539.99 223.44L540.34 225.41L540.51 227.47L540.51 229.59L540.34 231.74L539.99 233.88L539.47 235.99L538.79 238.03L537.96 239.97L537 241.78L535.91 243.43L534.72 244.9L533.44 246.16L532.09 247.21L530.69 248.01L529.27 248.56L527.84 248.84L526.43 248.87L525.06 248.62L523.75 248.12" fill="none" stroke="#282828" stroke-width="0.7"/><clipPath id="cpShaft"><ellipse cx="530.98" cy="232.18" rx="11.01" ry="17.2" transform="rotate(11 530.98 232.18)"/><path d="M542.43 173.28L622.43 200.28L599.53 318.08L519.53 291.08Z"/></clipPath><g clip-path="url(#cpShaft)"><ellipse cx="517.55" cy="227.56" rx="8.58" ry="13.4" transform="rotate(11 517.55 227.56)" fill="#fff" stroke="#282828" stroke-width="1.1" /><path d="M520.85 214.6L550.64 224.86L544.03 250.77L514.25 240.51Z" fill="#fff" stroke="none"/><path d="M520.85 214.6L550.64 224.86M514.25 240.51L544.03 250.77" fill="none" stroke="#282828" stroke-width="1.1"/></g><path d="M525.6 229L530.4 230.6L530.4 238.2L525.6 236.6Z" fill="#fff" stroke="#282828" stroke-width="0.85" stroke-linejoin="round" /><line x1="527" y1="229.5" x2="527" y2="237.1" stroke="#282828" stroke-width="0.6"/><ellipse cx="547.34" cy="237.81" rx="10.43" ry="16.3" transform="rotate(11 547.34 237.81)" fill="#fff" stroke="#282828" stroke-width="1.1" /><path d="M551.35 222.05L553.71 222.87L545.68 254.38L543.32 253.57Z" fill="#fff" stroke="none"/><path d="M551.35 222.05L553.71 222.87M543.32 253.57L545.68 254.38" fill="none" stroke="#282828" stroke-width="1.1"/><path d="M543.34 259.72L539.8 247.44L539.46 246.22L539.21 244.94L539.04 243.61L538.95 242.25L538.94 240.86L539.01 239.45L539.16 238.03L539.4 236.62L539.71 235.23L540.1 233.86L540.56 232.52L541.09 231.24L541.68 230.01L542.34 228.84L543.05 227.75L543.82 226.74L544.63 225.83L545.47 225.01L546.35 224.29L547.26 223.68L548.18 223.19L549.12 222.81L550.06 222.56L550.99 222.42L551.92 222.41L552.83 222.53L553.71 222.76L570.73 228.62L571.59 228.98L572.41 229.45L573.18 230.04L573.91 230.74L574.58 231.55L575.19 232.45L575.74 233.44L576.22 234.52L576.62 235.67L576.95 236.89L577.21 238.17L577.38 239.5L577.47 240.86L577.48 242.25L577.41 243.66L577.26 245.08L577.02 246.49L576.71 247.88L576.32 249.25L575.86 250.59L570.81 264.1L570.52 264.8L570.19 265.48L569.83 266.12L569.44 266.72L569.02 267.27L568.58 267.77L568.11 268.22L567.63 268.62L567.13 268.95L566.63 269.22L566.11 269.43L565.6 269.57L565.09 269.64L564.58 269.65L564.08 269.58L563.59 269.45L546.57 263.59L546.1 263.4L545.65 263.14L545.23 262.81L544.83 262.43L544.46 261.99L544.13 261.49L543.83 260.95L543.56 260.36Z" fill="#fff" stroke="#282828" stroke-width="1.1" stroke-linejoin="round" /><path d="M560.36 265.59L556.81 253.3L556.48 252.08L556.23 250.8L556.06 249.47L555.97 248.11L555.96 246.72L556.03 245.31L556.18 243.89L556.42 242.48L556.73 241.09L557.12 239.72L557.58 238.39L558.11 237.1L558.7 235.87L559.36 234.7L560.07 233.61L560.84 232.6L561.65 231.69L562.49 230.87L563.37 230.15L564.28 229.54L565.2 229.05L566.14 228.67L567.07 228.42L568.01 228.28L568.94 228.27L569.85 228.39L570.73 228.62L571.59 228.98L572.41 229.45L573.18 230.04L573.91 230.74L574.58 231.55L575.19 232.45L575.74 233.44L576.22 234.52L576.62 235.67L576.95 236.89L577.21 238.17L577.38 239.5L577.47 240.86L577.48 242.25L577.41 243.66L577.26 245.08L577.02 246.49L576.71 247.88L576.32 249.25L575.86 250.59L570.81 264.1L570.52 264.8L570.19 265.48L569.83 266.12L569.44 266.72L569.02 267.27L568.58 267.77L568.11 268.22L567.63 268.62L567.13 268.95L566.63 269.22L566.11 269.43L565.6 269.57L565.09 269.64L564.58 269.65L564.08 269.58L563.59 269.45L563.12 269.26L562.67 269L562.25 268.67L561.85 268.29L561.48 267.85L561.14 267.35L560.84 266.81L560.58 266.22Z" fill="#fff" stroke="#282828" stroke-width="1.1" stroke-linejoin="round" /><line x1="543.4" y1="234" x2="553.4" y2="237.9" stroke="#282828" stroke-width="0.7"/><ellipse cx="566.72" cy="244.49" rx="9.73" ry="15.2" transform="rotate(11 566.72 244.49)" fill="#fff" stroke="#282828" stroke-width="1.1" /><path d="M570.46 229.79L581.62 233.63L574.13 263.02L562.97 259.18Z" fill="#fff" stroke="none"/><path d="M570.46 229.79L581.62 233.63M562.97 259.18L574.13 263.02" fill="none" stroke="#282828" stroke-width="1.1"/><ellipse cx="577.88" cy="248.33" rx="9.73" ry="15.2" transform="rotate(11 577.88 248.33)" fill="#fff" stroke="#282828" stroke-width="1.1" /><ellipse cx="577.58" cy="248.23" rx="8.58" ry="13.4" transform="rotate(11 577.58 248.23)" fill="#fff" stroke="#282828" stroke-width="0.75" /><ellipse cx="577.88" cy="248.33" rx="3.6" ry="5" transform="rotate(11 577.88 248.33)" fill="#fff" stroke="#282828" stroke-width="0.85" /><ellipse cx="578.48" cy="248.53" rx="1.94" ry="2.7" transform="rotate(11 578.48 248.53)" fill="#fff" stroke="#282828" stroke-width="0.75" />
<path d="M496.3 150L627.8 195.7L562.5 310.4L431.2 265.4Z" fill="none" stroke="#484848" stroke-width="0.8" stroke-linejoin="round" stroke-dasharray="3.2 0.9"/>
<g id="chain">
<g stroke="#1a1a1a" fill="#1a1a1a" stroke-linecap="butt"><line x1="75.26" y1="102.99" x2="75.56" y2="94.62" stroke-width="5.92"/><line x1="75.56" y1="94.62" x2="76.83" y2="86.27" stroke-width="5.94"/><line x1="76.83" y1="86.27" x2="78.96" y2="77.93" stroke-width="5.95"/><line x1="78.96" y1="77.93" x2="81.75" y2="69.85" stroke-width="5.94"/><line x1="81.75" y1="69.85" x2="85.02" y2="62.18" stroke-width="5.92"/><line x1="85.02" y1="62.18" x2="88.94" y2="54.83" stroke-width="5.9"/><line x1="88.94" y1="54.83" x2="93.56" y2="48.11" stroke-width="5.86"/><line x1="93.56" y1="48.11" x2="98.77" y2="42.41" stroke-width="5.78"/><line x1="98.77" y1="42.41" x2="104.5" y2="37.79" stroke-width="5.7"/><line x1="104.5" y1="37.79" x2="110.51" y2="34.36" stroke-width="5.63"/><line x1="110.51" y1="34.36" x2="116.79" y2="32.1" stroke-width="5.56"/><line x1="116.79" y1="32.1" x2="122.87" y2="31.19" stroke-width="5.47"/><line x1="122.87" y1="31.19" x2="128.84" y2="31.58" stroke-width="5.44"/><line x1="128.84" y1="31.58" x2="134.5" y2="33.11" stroke-width="5.43"/><line x1="134.5" y1="33.11" x2="139.87" y2="35.68" stroke-width="5.42"/><line x1="139.87" y1="35.68" x2="144.67" y2="39.19" stroke-width="5.43"/><line x1="144.67" y1="39.19" x2="149.04" y2="43.75" stroke-width="5.5"/><line x1="149.04" y1="43.75" x2="152.95" y2="49.37" stroke-width="5.61"/><line x1="152.95" y1="49.37" x2="156.3" y2="55.73" stroke-width="5.68"/><line x1="156.3" y1="55.73" x2="159.17" y2="62.56" stroke-width="5.71"/><line x1="159.17" y1="62.56" x2="161.7" y2="69.65" stroke-width="5.72"/><line x1="161.7" y1="69.65" x2="163.97" y2="76.56" stroke-width="5.71"/><line x1="163.97" y1="76.56" x2="166.29" y2="83.66" stroke-width="5.71"/><line x1="166.29" y1="83.66" x2="168.63" y2="90.64" stroke-width="5.71"/><line x1="168.63" y1="90.64" x2="171.04" y2="97.64" stroke-width="5.71"/><line x1="171.04" y1="97.64" x2="173.48" y2="104.56" stroke-width="5.71"/><line x1="173.48" y1="104.56" x2="175.93" y2="111.43" stroke-width="5.71"/><line x1="175.93" y1="111.43" x2="178.47" y2="118.39" stroke-width="5.71"/><line x1="178.47" y1="118.39" x2="181.03" y2="125.34" stroke-width="5.71"/><line x1="181.03" y1="125.34" x2="183.58" y2="132.18" stroke-width="5.71"/><line x1="183.58" y1="132.18" x2="186.22" y2="139.18" stroke-width="5.71"/><line x1="186.22" y1="139.18" x2="188.85" y2="146.06" stroke-width="5.7"/><line x1="188.85" y1="146.06" x2="191.47" y2="152.81" stroke-width="5.69"/><line x1="191.47" y1="152.81" x2="194.15" y2="159.56" stroke-width="5.69"/><line x1="194.15" y1="159.56" x2="196.88" y2="166.3" stroke-width="5.69"/><line x1="196.88" y1="166.3" x2="199.67" y2="173.03" stroke-width="5.69"/><line x1="199.67" y1="173.03" x2="202.53" y2="179.73" stroke-width="5.69"/><line x1="202.53" y1="179.73" x2="205.46" y2="186.4" stroke-width="5.69"/><line x1="205.46" y1="186.4" x2="208.42" y2="192.9" stroke-width="5.68"/><line x1="208.42" y1="192.9" x2="211.51" y2="199.49" stroke-width="5.67"/><line x1="211.51" y1="199.49" x2="214.63" y2="205.89" stroke-width="5.66"/><line x1="214.63" y1="205.89" x2="217.84" y2="212.23" stroke-width="5.65"/><line x1="217.84" y1="212.23" x2="221.07" y2="218.38" stroke-width="5.63"/><line x1="221.07" y1="218.38" x2="224.34" y2="224.34" stroke-width="5.61"/><line x1="224.34" y1="224.34" x2="227.77" y2="230.35" stroke-width="5.61"/><line x1="227.77" y1="230.35" x2="231.24" y2="236.16" stroke-width="5.59"/><line x1="231.24" y1="236.16" x2="234.82" y2="241.9" stroke-width="5.58"/><line x1="234.82" y1="241.9" x2="238.43" y2="247.44" stroke-width="5.57"/><line x1="238.43" y1="247.44" x2="242.17" y2="252.9" stroke-width="5.57"/><line x1="242.17" y1="252.9" x2="246.03" y2="258.28" stroke-width="5.56"/><line x1="246.03" y1="258.28" x2="250.01" y2="263.58" stroke-width="5.55"/><line x1="250.01" y1="263.58" x2="253.96" y2="268.58" stroke-width="5.54"/><line x1="253.96" y1="268.58" x2="258.12" y2="273.61" stroke-width="5.53"/><line x1="258.12" y1="273.61" x2="262.33" y2="278.45" stroke-width="5.52"/><line x1="262.33" y1="278.45" x2="266.58" y2="283.1" stroke-width="5.51"/><line x1="266.58" y1="283.1" x2="271.07" y2="287.77" stroke-width="5.51"/><line x1="271.07" y1="287.77" x2="275.61" y2="292.26" stroke-width="5.51"/><line x1="275.61" y1="292.26" x2="280.18" y2="296.57" stroke-width="5.51"/><line x1="280.18" y1="296.57" x2="284.96" y2="300.91" stroke-width="5.51"/><line x1="284.96" y1="300.91" x2="289.69" y2="305.26" stroke-width="5.53"/><line x1="289.69" y1="305.26" x2="294.3" y2="309.78" stroke-width="5.55"/><line x1="294.3" y1="309.78" x2="298.77" y2="314.75" stroke-width="5.57"/><line x1="298.77" y1="314.75" x2="302.71" y2="320.21" stroke-width="5.59"/><line x1="302.71" y1="320.21" x2="305.84" y2="326.4" stroke-width="5.62"/><line x1="305.84" y1="326.4" x2="307.64" y2="333.39" stroke-width="5.67"/><line x1="307.64" y1="333.39" x2="307.71" y2="340.65" stroke-width="5.71"/><line x1="307.71" y1="340.65" x2="306.2" y2="348.01" stroke-width="5.74"/><line x1="306.2" y1="348.01" x2="303.31" y2="355.11" stroke-width="5.75"/><line x1="303.31" y1="355.11" x2="299.24" y2="361.31" stroke-width="5.74"/><line x1="299.24" y1="361.31" x2="293.71" y2="366.22" stroke-width="5.7"/><line x1="293.71" y1="366.22" x2="287.19" y2="368.63" stroke-width="5.64"/><line x1="287.19" y1="368.63" x2="280.38" y2="368.32" stroke-width="5.59"/><line x1="280.38" y1="368.32" x2="274.46" y2="365.73" stroke-width="5.55"/><line x1="274.46" y1="365.73" x2="269.58" y2="361.5" stroke-width="5.53"/><line x1="269.58" y1="361.5" x2="265.5" y2="356.43" stroke-width="5.54"/><line x1="265.5" y1="356.43" x2="261.86" y2="350.87" stroke-width="5.58"/><line x1="261.86" y1="350.87" x2="258.35" y2="345.03" stroke-width="5.59"/><line x1="258.35" y1="345.03" x2="254.88" y2="339.23" stroke-width="5.59"/><line x1="254.88" y1="339.23" x2="251.31" y2="333.37" stroke-width="5.59"/><line x1="251.31" y1="333.37" x2="247.74" y2="327.63" stroke-width="5.59"/><line x1="247.74" y1="327.63" x2="244.11" y2="321.95" stroke-width="5.59"/><line x1="244.11" y1="321.95" x2="240.41" y2="316.3" stroke-width="5.58"/><line x1="240.41" y1="316.3" x2="236.64" y2="310.69" stroke-width="5.58"/><line x1="236.64" y1="310.69" x2="232.9" y2="305.21" stroke-width="5.57"/><line x1="232.9" y1="305.21" x2="229.1" y2="299.76" stroke-width="5.57"/><line x1="229.1" y1="299.76" x2="225.26" y2="294.33" stroke-width="5.57"/><line x1="225.26" y1="294.33" x2="221.29" y2="288.81" stroke-width="5.58"/><line x1="221.29" y1="288.81" x2="217.3" y2="283.3" stroke-width="5.59"/><line x1="217.3" y1="283.3" x2="213.35" y2="277.92" stroke-width="5.59"/><line x1="213.35" y1="277.92" x2="209.31" y2="272.44" stroke-width="5.59"/><line x1="209.31" y1="272.44" x2="205.32" y2="267.08" stroke-width="5.58"/><line x1="205.32" y1="267.08" x2="201.33" y2="261.73" stroke-width="5.57"/><line x1="201.33" y1="261.73" x2="197.31" y2="256.4" stroke-width="5.57"/><line x1="197.31" y1="256.4" x2="193.26" y2="251.08" stroke-width="5.57"/><line x1="193.26" y1="251.08" x2="189.19" y2="245.79" stroke-width="5.57"/><line x1="189.19" y1="245.79" x2="185.09" y2="240.52" stroke-width="5.57"/><line x1="185.09" y1="240.52" x2="180.96" y2="235.27" stroke-width="5.57"/><line x1="180.96" y1="235.27" x2="176.8" y2="230.06" stroke-width="5.56"/><line x1="176.8" y1="230.06" x2="172.68" y2="224.98" stroke-width="5.54"/><line x1="172.68" y1="224.98" x2="168.62" y2="220.05" stroke-width="5.52"/><line x1="168.62" y1="220.05" x2="164.52" y2="215.15" stroke-width="5.51"/><line x1="164.52" y1="215.15" x2="160.38" y2="210.29" stroke-width="5.51"/><line x1="160.38" y1="210.29" x2="156.2" y2="205.47" stroke-width="5.51"/><line x1="156.2" y1="205.47" x2="151.97" y2="200.69" stroke-width="5.51"/><line x1="151.97" y1="200.69" x2="147.69" y2="195.96" stroke-width="5.51"/><line x1="147.69" y1="195.96" x2="143.36" y2="191.27" stroke-width="5.51"/><line x1="143.36" y1="191.27" x2="139.08" y2="186.73" stroke-width="5.51"/><line x1="139.08" y1="186.73" x2="134.64" y2="182.14" stroke-width="5.51"/><line x1="134.64" y1="182.14" x2="130.15" y2="177.61" stroke-width="5.5"/><line x1="130.15" y1="177.61" x2="125.7" y2="173.22" stroke-width="5.49"/><line x1="125.7" y1="173.22" x2="121.2" y2="168.89" stroke-width="5.49"/><line x1="121.2" y1="168.89" x2="116.56" y2="164.49" stroke-width="5.49"/><line x1="116.56" y1="164.49" x2="112.01" y2="160.21" stroke-width="5.49"/><line x1="112.01" y1="160.21" x2="107.45" y2="155.94" stroke-width="5.49"/><line x1="107.45" y1="155.94" x2="102.88" y2="151.67" stroke-width="5.49"/><line x1="102.88" y1="151.67" x2="98.23" y2="147.29" stroke-width="5.5"/><line x1="98.23" y1="147.29" x2="93.63" y2="142.87" stroke-width="5.53"/><line x1="93.63" y1="142.87" x2="88.94" y2="138.02" stroke-width="5.59"/><line x1="88.94" y1="138.02" x2="84.37" y2="132.41" stroke-width="5.67"/><line x1="84.37" y1="132.41" x2="80.53" y2="126.14" stroke-width="5.73"/><line x1="80.53" y1="126.14" x2="77.68" y2="118.92" stroke-width="5.77"/><line x1="77.68" y1="118.92" x2="75.96" y2="111.19" stroke-width="5.82"/><line x1="75.96" y1="111.19" x2="75.26" y2="102.99" stroke-width="5.88"/><circle cx="75.26" cy="102.99" r="3.86"/><circle cx="78.11" cy="102.92" r="3.67"/><circle cx="75.56" cy="94.62" r="3.87"/><circle cx="78.44" cy="94.89" r="3.7"/><circle cx="76.83" cy="86.27" r="3.89"/><circle cx="79.69" cy="86.86" r="3.74"/><circle cx="78.96" cy="77.93" r="3.89"/><circle cx="81.76" cy="78.78" r="3.74"/><circle cx="81.75" cy="69.85" r="3.88"/><circle cx="84.45" cy="70.89" r="3.71"/><circle cx="85.02" cy="62.18" r="3.86"/><circle cx="87.6" cy="63.41" r="3.67"/><circle cx="88.94" cy="54.83" r="3.85"/><circle cx="91.36" cy="56.28" r="3.64"/><circle cx="93.56" cy="48.11" r="3.81"/><circle cx="95.71" cy="49.8" r="3.55"/><circle cx="98.77" cy="42.41" r="3.73"/><circle cx="100.52" cy="44.27" r="3.38"/><circle cx="104.5" cy="37.79" r="3.67"/><circle cx="105.88" cy="39.81" r="3.26"/><circle cx="110.51" cy="34.36" r="3.63"/><circle cx="111.5" cy="36.48" r="3.17"/><circle cx="116.79" cy="32.1" r="3.56"/><circle cx="117.32" cy="34.2" r="3"/><circle cx="122.87" cy="31.19" r="3.51"/><circle cx="122.96" cy="33.24" r="2.9"/><circle cx="128.84" cy="31.58" r="3.5"/><circle cx="128.5" cy="33.59" r="2.88"/><circle cx="134.5" cy="33.11" r="3.5"/><circle cx="133.79" cy="35.02" r="2.88"/><circle cx="139.87" cy="35.68" r="3.49"/><circle cx="144.67" cy="39.19" r="3.51"/><circle cx="143.31" cy="40.74" r="2.9"/><circle cx="149.04" cy="43.75" r="3.59"/><circle cx="147.29" cy="45.17" r="3.09"/><circle cx="152.95" cy="49.37" r="3.67"/><circle cx="150.87" cy="50.62" r="3.25"/><circle cx="156.3" cy="55.73" r="3.71"/><circle cx="154.03" cy="56.79" r="3.33"/><circle cx="159.17" cy="62.56" r="3.72"/><circle cx="156.79" cy="63.47" r="3.37"/><circle cx="161.7" cy="69.65" r="3.71"/><circle cx="159.31" cy="70.46" r="3.35"/><circle cx="163.97" cy="76.56" r="3.71"/><circle cx="161.57" cy="77.33" r="3.34"/><circle cx="166.29" cy="83.66" r="3.71"/><circle cx="163.9" cy="84.45" r="3.34"/><circle cx="168.63" cy="90.64" r="3.71"/><circle cx="166.25" cy="91.45" r="3.34"/><circle cx="171.04" cy="97.64" r="3.71"/><circle cx="168.67" cy="98.47" r="3.34"/><circle cx="173.48" cy="104.56" r="3.71"/><circle cx="171.1" cy="105.41" r="3.34"/><circle cx="175.93" cy="111.43" r="3.71"/><circle cx="173.57" cy="112.28" r="3.34"/><circle cx="178.47" cy="118.39" r="3.71"/><circle cx="176.11" cy="119.26" r="3.34"/><circle cx="181.03" cy="125.34" r="3.71"/><circle cx="178.68" cy="126.22" r="3.34"/><circle cx="183.58" cy="132.18" r="3.71"/><circle cx="181.23" cy="133.07" r="3.34"/><circle cx="186.22" cy="139.18" r="3.71"/><circle cx="183.87" cy="140.07" r="3.34"/><circle cx="188.85" cy="146.06" r="3.7"/><circle cx="186.52" cy="146.95" r="3.32"/><circle cx="191.47" cy="152.81" r="3.69"/><circle cx="189.16" cy="153.72" r="3.31"/><circle cx="194.15" cy="159.56" r="3.69"/><circle cx="191.84" cy="160.48" r="3.31"/><circle cx="196.88" cy="166.3" r="3.69"/><circle cx="194.58" cy="167.25" r="3.31"/><circle cx="199.67" cy="173.03" r="3.69"/><circle cx="197.38" cy="173.99" r="3.31"/><circle cx="202.53" cy="179.73" r="3.69"/><circle cx="200.25" cy="180.72" r="3.31"/><circle cx="205.46" cy="186.4" r="3.69"/><circle cx="203.2" cy="187.41" r="3.31"/><circle cx="208.42" cy="192.9" r="3.69"/><circle cx="206.18" cy="193.93" r="3.29"/><circle cx="211.51" cy="199.49" r="3.68"/><circle cx="209.3" cy="200.54" r="3.28"/><circle cx="214.63" cy="205.89" r="3.67"/><circle cx="212.45" cy="206.97" r="3.26"/><circle cx="217.84" cy="212.23" r="3.66"/><circle cx="215.71" cy="213.33" r="3.23"/><circle cx="221.07" cy="218.38" r="3.64"/><circle cx="218.99" cy="219.5" r="3.19"/><circle cx="224.34" cy="224.34" r="3.63"/><circle cx="222.29" cy="225.49" r="3.18"/><circle cx="227.77" cy="230.35" r="3.63"/><circle cx="225.76" cy="231.53" r="3.16"/><circle cx="231.24" cy="236.16" r="3.61"/><circle cx="229.28" cy="237.36" r="3.13"/><circle cx="234.82" cy="241.9" r="3.6"/><circle cx="232.9" cy="243.12" r="3.11"/><circle cx="238.43" cy="247.44" r="3.6"/><circle cx="236.54" cy="248.7" r="3.11"/><circle cx="242.17" cy="252.9" r="3.6"/><circle cx="240.32" cy="254.19" r="3.09"/><circle cx="246.03" cy="258.28" r="3.59"/><circle cx="244.22" cy="259.61" r="3.08"/><circle cx="250.01" cy="263.58" r="3.58"/><circle cx="248.25" cy="264.94" r="3.06"/><circle cx="253.96" cy="268.58" r="3.57"/><circle cx="252.24" cy="269.97" r="3.04"/><circle cx="258.12" cy="273.61" r="3.57"/><circle cx="256.45" cy="275.03" r="3.03"/><circle cx="262.33" cy="278.45" r="3.56"/><circle cx="260.71" cy="279.9" r="3.01"/><circle cx="266.58" cy="283.1" r="3.56"/><circle cx="265" cy="284.59" r="3.01"/><circle cx="271.07" cy="287.77" r="3.56"/><circle cx="269.52" cy="289.3" r="3.01"/><circle cx="275.61" cy="292.26" r="3.56"/><circle cx="274.1" cy="293.83" r="3.01"/><circle cx="280.18" cy="296.57" r="3.56"/><circle cx="278.71" cy="298.17" r="3.01"/><circle cx="284.96" cy="300.91" r="3.56"/><circle cx="283.49" cy="302.53" r="3.02"/><circle cx="289.69" cy="305.26" r="3.58"/><circle cx="288.17" cy="306.88" r="3.05"/><circle cx="294.3" cy="309.78" r="3.59"/><circle cx="292.68" cy="311.34" r="3.09"/><circle cx="298.77" cy="314.75" r="3.61"/><circle cx="297" cy="316.2" r="3.12"/><circle cx="302.71" cy="320.21" r="3.63"/><circle cx="300.73" cy="321.44" r="3.16"/><circle cx="305.84" cy="326.4" r="3.66"/><circle cx="303.6" cy="327.27" r="3.24"/><circle cx="307.64" cy="333.39" r="3.69"/><circle cx="305.18" cy="333.71" r="3.31"/><circle cx="307.71" cy="340.65" r="3.72"/><circle cx="305.18" cy="340.38" r="3.37"/><circle cx="306.2" cy="348.01" r="3.74"/><circle cx="303.72" cy="347.26" r="3.41"/><circle cx="303.31" cy="355.11" r="3.74"/><circle cx="301.02" cy="353.92" r="3.41"/><circle cx="299.24" cy="361.31" r="3.73"/><circle cx="297.28" cy="359.67" r="3.38"/><circle cx="293.71" cy="366.22" r="3.68"/><circle cx="292.42" cy="364.13" r="3.29"/><circle cx="287.19" cy="368.63" r="3.63"/><circle cx="286.84" cy="366.31" r="3.18"/><circle cx="280.38" cy="368.32" r="3.61"/><circle cx="280.92" cy="366.09" r="3.13"/><circle cx="274.46" cy="365.73" r="3.57"/><circle cx="275.68" cy="363.89" r="3.04"/><circle cx="269.58" cy="361.5" r="3.57"/><circle cx="271.19" cy="360" r="3.03"/><circle cx="265.5" cy="356.43" r="3.6"/><circle cx="267.35" cy="355.12" r="3.1"/><circle cx="261.86" cy="350.87" r="3.62"/><circle cx="263.83" cy="349.66" r="3.14"/><circle cx="258.35" cy="345.03" r="3.62"/><circle cx="260.34" cy="343.85" r="3.14"/><circle cx="254.88" cy="339.23" r="3.62"/><circle cx="256.86" cy="338.04" r="3.14"/><circle cx="251.31" cy="333.37" r="3.62"/><circle cx="253.28" cy="332.16" r="3.14"/><circle cx="247.74" cy="327.63" r="3.62"/><circle cx="249.7" cy="326.4" r="3.14"/><circle cx="244.11" cy="321.95" r="3.62"/><circle cx="246.05" cy="320.7" r="3.14"/><circle cx="240.41" cy="316.3" r="3.61"/><circle cx="242.32" cy="315.04" r="3.13"/><circle cx="236.64" cy="310.69" r="3.61"/><circle cx="238.54" cy="309.4" r="3.12"/><circle cx="232.9" cy="305.21" r="3.6"/><circle cx="234.77" cy="303.92" r="3.11"/><circle cx="229.1" cy="299.76" r="3.6"/><circle cx="230.97" cy="298.45" r="3.11"/><circle cx="225.26" cy="294.33" r="3.61"/><circle cx="227.12" cy="293.01" r="3.12"/><circle cx="221.29" cy="288.81" r="3.62"/><circle cx="223.17" cy="287.45" r="3.14"/><circle cx="217.3" cy="283.3" r="3.62"/><circle cx="219.16" cy="281.94" r="3.14"/><circle cx="213.35" cy="277.92" r="3.62"/><circle cx="215.22" cy="276.55" r="3.14"/><circle cx="209.31" cy="272.44" r="3.62"/><circle cx="211.16" cy="271.06" r="3.14"/><circle cx="205.32" cy="267.08" r="3.6"/><circle cx="207.15" cy="265.72" r="3.11"/><circle cx="201.33" cy="261.73" r="3.6"/><circle cx="203.15" cy="260.36" r="3.11"/><circle cx="197.31" cy="256.4" r="3.6"/><circle cx="199.12" cy="255.02" r="3.11"/><circle cx="193.26" cy="251.08" r="3.6"/><circle cx="195.07" cy="249.7" r="3.11"/><circle cx="189.19" cy="245.79" r="3.6"/><circle cx="190.99" cy="244.4" r="3.11"/><circle cx="185.09" cy="240.52" r="3.6"/><circle cx="186.89" cy="239.12" r="3.11"/><circle cx="180.96" cy="235.27" r="3.6"/><circle cx="182.74" cy="233.86" r="3.11"/><circle cx="176.8" cy="230.06" r="3.59"/><circle cx="178.54" cy="228.65" r="3.08"/><circle cx="172.68" cy="224.98" r="3.57"/><circle cx="174.39" cy="223.59" r="3.04"/><circle cx="168.62" cy="220.05" r="3.56"/><circle cx="170.3" cy="218.66" r="3.01"/><circle cx="164.52" cy="215.15" r="3.56"/><circle cx="166.19" cy="213.75" r="3.01"/><circle cx="160.38" cy="210.29" r="3.56"/><circle cx="162.03" cy="208.88" r="3.01"/><circle cx="156.2" cy="205.47" r="3.56"/><circle cx="157.84" cy="204.04" r="3.01"/><circle cx="151.97" cy="200.69" r="3.56"/><circle cx="153.59" cy="199.24" r="3.01"/><circle cx="147.69" cy="195.96" r="3.56"/><circle cx="149.3" cy="194.49" r="3.01"/><circle cx="143.36" cy="191.27" r="3.56"/><circle cx="144.95" cy="189.78" r="3.01"/><circle cx="139.08" cy="186.73" r="3.56"/><circle cx="140.65" cy="185.23" r="3.01"/><circle cx="134.64" cy="182.14" r="3.56"/><circle cx="136.2" cy="180.62" r="3.01"/><circle cx="130.15" cy="177.61" r="3.55"/><circle cx="131.66" cy="176.09" r="2.98"/><circle cx="125.7" cy="173.22" r="3.54"/><circle cx="127.19" cy="171.69" r="2.98"/><circle cx="121.2" cy="168.89" r="3.54"/><circle cx="122.68" cy="167.34" r="2.98"/><circle cx="116.56" cy="164.49" r="3.54"/><circle cx="118.03" cy="162.93" r="2.98"/><circle cx="112.01" cy="160.21" r="3.54"/><circle cx="113.47" cy="158.64" r="2.98"/><circle cx="107.45" cy="155.94" r="3.54"/><circle cx="108.91" cy="154.37" r="2.98"/><circle cx="102.88" cy="151.67" r="3.54"/><circle cx="104.35" cy="150.1" r="2.98"/><circle cx="98.23" cy="147.29" r="3.56"/><circle cx="99.73" cy="145.71" r="3.01"/><circle cx="93.63" cy="142.87" r="3.59"/><circle cx="95.2" cy="141.28" r="3.07"/><circle cx="88.94" cy="138.02" r="3.65"/><circle cx="90.71" cy="136.42" r="3.21"/><circle cx="84.37" cy="132.41" r="3.71"/><circle cx="86.4" cy="130.94" r="3.33"/><circle cx="80.53" cy="126.14" r="3.74"/><circle cx="82.84" cy="124.98" r="3.41"/><circle cx="77.68" cy="118.92" r="3.77"/><circle cx="80.22" cy="118.15" r="3.47"/><circle cx="75.96" cy="111.19" r="3.82"/><circle cx="78.69" cy="110.78" r="3.57"/></g>
<g stroke="#f4f4f4" fill="#f4f4f4" stroke-linecap="butt"><line x1="75.26" y1="102.99" x2="75.56" y2="94.62" stroke-width="3.92"/><line x1="75.26" y1="102.99" x2="78.11" y2="102.92" stroke-width="4.44"/><line x1="75.56" y1="94.62" x2="76.83" y2="86.27" stroke-width="3.94"/><line x1="75.56" y1="94.62" x2="78.44" y2="94.89" stroke-width="4.49"/><line x1="76.83" y1="86.27" x2="78.96" y2="77.93" stroke-width="3.95"/><line x1="76.83" y1="86.27" x2="79.69" y2="86.86" stroke-width="4.54"/><line x1="78.96" y1="77.93" x2="81.75" y2="69.85" stroke-width="3.94"/><line x1="78.96" y1="77.93" x2="81.76" y2="78.78" stroke-width="4.54"/><line x1="81.75" y1="69.85" x2="85.02" y2="62.18" stroke-width="3.92"/><line x1="81.75" y1="69.85" x2="84.45" y2="70.89" stroke-width="4.49"/><line x1="85.02" y1="62.18" x2="88.94" y2="54.83" stroke-width="3.9"/><line x1="85.02" y1="62.18" x2="87.6" y2="63.41" stroke-width="4.44"/><line x1="88.94" y1="54.83" x2="93.56" y2="48.11" stroke-width="3.86"/><line x1="88.94" y1="54.83" x2="91.36" y2="56.28" stroke-width="4.38"/><line x1="93.56" y1="48.11" x2="98.77" y2="42.41" stroke-width="3.78"/><line x1="93.56" y1="48.11" x2="95.71" y2="49.8" stroke-width="4.24"/><line x1="98.77" y1="42.41" x2="104.5" y2="37.79" stroke-width="3.7"/><line x1="98.77" y1="42.41" x2="100.52" y2="44.27" stroke-width="3.97"/><line x1="104.5" y1="37.79" x2="110.51" y2="34.36" stroke-width="3.63"/><line x1="104.5" y1="37.79" x2="105.88" y2="39.81" stroke-width="3.78"/><line x1="110.51" y1="34.36" x2="116.79" y2="32.1" stroke-width="3.56"/><line x1="110.51" y1="34.36" x2="111.5" y2="36.48" stroke-width="3.63"/><line x1="116.79" y1="32.1" x2="122.87" y2="31.19" stroke-width="3.47"/><line x1="116.79" y1="32.1" x2="117.32" y2="34.2" stroke-width="3.36"/><line x1="122.87" y1="31.19" x2="128.84" y2="31.58" stroke-width="3.44"/><line x1="122.87" y1="31.19" x2="122.96" y2="33.24" stroke-width="3.19"/><line x1="128.84" y1="31.58" x2="134.5" y2="33.11" stroke-width="3.43"/><line x1="128.84" y1="31.58" x2="128.5" y2="33.59" stroke-width="3.17"/><line x1="134.5" y1="33.11" x2="139.87" y2="35.68" stroke-width="3.42"/><line x1="134.5" y1="33.11" x2="133.79" y2="35.02" stroke-width="3.17"/><line x1="139.87" y1="35.68" x2="144.67" y2="39.19" stroke-width="3.43"/><line x1="144.67" y1="39.19" x2="149.04" y2="43.75" stroke-width="3.5"/><line x1="144.67" y1="39.19" x2="143.31" y2="40.74" stroke-width="3.2"/><line x1="149.04" y1="43.75" x2="152.95" y2="49.37" stroke-width="3.61"/><line x1="149.04" y1="43.75" x2="147.29" y2="45.17" stroke-width="3.5"/><line x1="152.95" y1="49.37" x2="156.3" y2="55.73" stroke-width="3.68"/><line x1="152.95" y1="49.37" x2="150.87" y2="50.62" stroke-width="3.76"/><line x1="156.3" y1="55.73" x2="159.17" y2="62.56" stroke-width="3.71"/><line x1="156.3" y1="55.73" x2="154.03" y2="56.79" stroke-width="3.89"/><line x1="159.17" y1="62.56" x2="161.7" y2="69.65" stroke-width="3.72"/><line x1="159.17" y1="62.56" x2="156.79" y2="63.47" stroke-width="3.95"/><line x1="161.7" y1="69.65" x2="163.97" y2="76.56" stroke-width="3.71"/><line x1="161.7" y1="69.65" x2="159.31" y2="70.46" stroke-width="3.92"/><line x1="163.97" y1="76.56" x2="166.29" y2="83.66" stroke-width="3.71"/><line x1="163.97" y1="76.56" x2="161.57" y2="77.33" stroke-width="3.91"/><line x1="166.29" y1="83.66" x2="168.63" y2="90.64" stroke-width="3.71"/><line x1="166.29" y1="83.66" x2="163.9" y2="84.45" stroke-width="3.91"/><line x1="168.63" y1="90.64" x2="171.04" y2="97.64" stroke-width="3.71"/><line x1="168.63" y1="90.64" x2="166.25" y2="91.45" stroke-width="3.91"/><line x1="171.04" y1="97.64" x2="173.48" y2="104.56" stroke-width="3.71"/><line x1="171.04" y1="97.64" x2="168.67" y2="98.47" stroke-width="3.91"/><line x1="173.48" y1="104.56" x2="175.93" y2="111.43" stroke-width="3.71"/><line x1="173.48" y1="104.56" x2="171.1" y2="105.41" stroke-width="3.91"/><line x1="175.93" y1="111.43" x2="178.47" y2="118.39" stroke-width="3.71"/><line x1="175.93" y1="111.43" x2="173.57" y2="112.28" stroke-width="3.91"/><line x1="178.47" y1="118.39" x2="181.03" y2="125.34" stroke-width="3.71"/><line x1="178.47" y1="118.39" x2="176.11" y2="119.26" stroke-width="3.91"/><line x1="181.03" y1="125.34" x2="183.58" y2="132.18" stroke-width="3.71"/><line x1="181.03" y1="125.34" x2="178.68" y2="126.22" stroke-width="3.91"/><line x1="183.58" y1="132.18" x2="186.22" y2="139.18" stroke-width="3.71"/><line x1="183.58" y1="132.18" x2="181.23" y2="133.07" stroke-width="3.91"/><line x1="186.22" y1="139.18" x2="188.85" y2="146.06" stroke-width="3.7"/><line x1="186.22" y1="139.18" x2="183.87" y2="140.07" stroke-width="3.91"/><line x1="188.85" y1="146.06" x2="191.47" y2="152.81" stroke-width="3.69"/><line x1="188.85" y1="146.06" x2="186.52" y2="146.95" stroke-width="3.87"/><line x1="191.47" y1="152.81" x2="194.15" y2="159.56" stroke-width="3.69"/><line x1="191.47" y1="152.81" x2="189.16" y2="153.72" stroke-width="3.85"/><line x1="194.15" y1="159.56" x2="196.88" y2="166.3" stroke-width="3.69"/><line x1="194.15" y1="159.56" x2="191.84" y2="160.48" stroke-width="3.85"/><line x1="196.88" y1="166.3" x2="199.67" y2="173.03" stroke-width="3.69"/><line x1="196.88" y1="166.3" x2="194.58" y2="167.25" stroke-width="3.85"/><line x1="199.67" y1="173.03" x2="202.53" y2="179.73" stroke-width="3.69"/><line x1="199.67" y1="173.03" x2="197.38" y2="173.99" stroke-width="3.85"/><line x1="202.53" y1="179.73" x2="205.46" y2="186.4" stroke-width="3.69"/><line x1="202.53" y1="179.73" x2="200.25" y2="180.72" stroke-width="3.85"/><line x1="205.46" y1="186.4" x2="208.42" y2="192.9" stroke-width="3.68"/><line x1="205.46" y1="186.4" x2="203.2" y2="187.41" stroke-width="3.85"/><line x1="208.42" y1="192.9" x2="211.51" y2="199.49" stroke-width="3.67"/><line x1="208.42" y1="192.9" x2="206.18" y2="193.93" stroke-width="3.83"/><line x1="211.51" y1="199.49" x2="214.63" y2="205.89" stroke-width="3.66"/><line x1="211.51" y1="199.49" x2="209.3" y2="200.54" stroke-width="3.8"/><line x1="214.63" y1="205.89" x2="217.84" y2="212.23" stroke-width="3.65"/><line x1="214.63" y1="205.89" x2="212.45" y2="206.97" stroke-width="3.77"/><line x1="217.84" y1="212.23" x2="221.07" y2="218.38" stroke-width="3.63"/><line x1="217.84" y1="212.23" x2="215.71" y2="213.33" stroke-width="3.72"/><line x1="221.07" y1="218.38" x2="224.34" y2="224.34" stroke-width="3.61"/><line x1="221.07" y1="218.38" x2="218.99" y2="219.5" stroke-width="3.67"/><line x1="224.34" y1="224.34" x2="227.77" y2="230.35" stroke-width="3.61"/><line x1="224.34" y1="224.34" x2="222.29" y2="225.49" stroke-width="3.64"/><line x1="227.77" y1="230.35" x2="231.24" y2="236.16" stroke-width="3.59"/><line x1="227.77" y1="230.35" x2="225.76" y2="231.53" stroke-width="3.62"/><line x1="231.24" y1="236.16" x2="234.82" y2="241.9" stroke-width="3.58"/><line x1="231.24" y1="236.16" x2="229.28" y2="237.36" stroke-width="3.57"/><line x1="234.82" y1="241.9" x2="238.43" y2="247.44" stroke-width="3.57"/><line x1="234.82" y1="241.9" x2="232.9" y2="243.12" stroke-width="3.54"/><line x1="238.43" y1="247.44" x2="242.17" y2="252.9" stroke-width="3.57"/><line x1="238.43" y1="247.44" x2="236.54" y2="248.7" stroke-width="3.54"/><line x1="242.17" y1="252.9" x2="246.03" y2="258.28" stroke-width="3.56"/><line x1="242.17" y1="252.9" x2="240.32" y2="254.19" stroke-width="3.51"/><line x1="246.03" y1="258.28" x2="250.01" y2="263.58" stroke-width="3.55"/><line x1="246.03" y1="258.28" x2="244.22" y2="259.61" stroke-width="3.48"/><line x1="250.01" y1="263.58" x2="253.96" y2="268.58" stroke-width="3.54"/><line x1="250.01" y1="263.58" x2="248.25" y2="264.94" stroke-width="3.46"/><line x1="253.96" y1="268.58" x2="258.12" y2="273.61" stroke-width="3.53"/><line x1="253.96" y1="268.58" x2="252.24" y2="269.97" stroke-width="3.43"/><line x1="258.12" y1="273.61" x2="262.33" y2="278.45" stroke-width="3.52"/><line x1="258.12" y1="273.61" x2="256.45" y2="275.03" stroke-width="3.41"/><line x1="262.33" y1="278.45" x2="266.58" y2="283.1" stroke-width="3.51"/><line x1="262.33" y1="278.45" x2="260.71" y2="279.9" stroke-width="3.38"/><line x1="266.58" y1="283.1" x2="271.07" y2="287.77" stroke-width="3.51"/><line x1="266.58" y1="283.1" x2="265" y2="284.59" stroke-width="3.38"/><line x1="271.07" y1="287.77" x2="275.61" y2="292.26" stroke-width="3.51"/><line x1="271.07" y1="287.77" x2="269.52" y2="289.3" stroke-width="3.38"/><line x1="275.61" y1="292.26" x2="280.18" y2="296.57" stroke-width="3.51"/><line x1="275.61" y1="292.26" x2="274.1" y2="293.83" stroke-width="3.38"/><line x1="280.18" y1="296.57" x2="284.96" y2="300.91" stroke-width="3.51"/><line x1="280.18" y1="296.57" x2="278.71" y2="298.17" stroke-width="3.38"/><line x1="284.96" y1="300.91" x2="289.69" y2="305.26" stroke-width="3.53"/><line x1="284.96" y1="300.91" x2="283.49" y2="302.53" stroke-width="3.39"/><line x1="289.69" y1="305.26" x2="294.3" y2="309.78" stroke-width="3.55"/><line x1="289.69" y1="305.26" x2="288.17" y2="306.88" stroke-width="3.45"/><line x1="294.3" y1="309.78" x2="298.77" y2="314.75" stroke-width="3.57"/><line x1="294.3" y1="309.78" x2="292.68" y2="311.34" stroke-width="3.5"/><line x1="298.77" y1="314.75" x2="302.71" y2="320.21" stroke-width="3.59"/><line x1="298.77" y1="314.75" x2="297" y2="316.2" stroke-width="3.55"/><line x1="302.71" y1="320.21" x2="305.84" y2="326.4" stroke-width="3.62"/><line x1="302.71" y1="320.21" x2="300.73" y2="321.44" stroke-width="3.62"/><line x1="305.84" y1="326.4" x2="307.64" y2="333.39" stroke-width="3.67"/><line x1="305.84" y1="326.4" x2="303.6" y2="327.27" stroke-width="3.74"/><line x1="307.64" y1="333.39" x2="307.71" y2="340.65" stroke-width="3.71"/><line x1="307.64" y1="333.39" x2="305.18" y2="333.71" stroke-width="3.85"/><line x1="307.71" y1="340.65" x2="306.2" y2="348.01" stroke-width="3.74"/><line x1="307.71" y1="340.65" x2="305.18" y2="340.38" stroke-width="3.95"/><line x1="306.2" y1="348.01" x2="303.31" y2="355.11" stroke-width="3.75"/><line x1="306.2" y1="348.01" x2="303.72" y2="347.26" stroke-width="4.01"/><line x1="303.31" y1="355.11" x2="299.24" y2="361.31" stroke-width="3.74"/><line x1="303.31" y1="355.11" x2="301.02" y2="353.92" stroke-width="4.01"/><line x1="299.24" y1="361.31" x2="293.71" y2="366.22" stroke-width="3.7"/><line x1="299.24" y1="361.31" x2="297.28" y2="359.67" stroke-width="3.96"/><line x1="293.71" y1="366.22" x2="287.19" y2="368.63" stroke-width="3.64"/><line x1="293.71" y1="366.22" x2="292.42" y2="364.13" stroke-width="3.82"/><line x1="287.19" y1="368.63" x2="280.38" y2="368.32" stroke-width="3.59"/><line x1="287.19" y1="368.63" x2="286.84" y2="366.31" stroke-width="3.64"/><line x1="280.38" y1="368.32" x2="274.46" y2="365.73" stroke-width="3.55"/><line x1="280.38" y1="368.32" x2="280.92" y2="366.09" stroke-width="3.56"/><line x1="274.46" y1="365.73" x2="269.58" y2="361.5" stroke-width="3.53"/><line x1="274.46" y1="365.73" x2="275.68" y2="363.89" stroke-width="3.42"/><line x1="269.58" y1="361.5" x2="265.5" y2="356.43" stroke-width="3.54"/><line x1="269.58" y1="361.5" x2="271.19" y2="360" stroke-width="3.42"/><line x1="265.5" y1="356.43" x2="261.86" y2="350.87" stroke-width="3.58"/><line x1="265.5" y1="356.43" x2="267.35" y2="355.12" stroke-width="3.52"/><line x1="261.86" y1="350.87" x2="258.35" y2="345.03" stroke-width="3.59"/><line x1="261.86" y1="350.87" x2="263.83" y2="349.66" stroke-width="3.59"/><line x1="258.35" y1="345.03" x2="254.88" y2="339.23" stroke-width="3.59"/><line x1="258.35" y1="345.03" x2="260.34" y2="343.85" stroke-width="3.59"/><line x1="254.88" y1="339.23" x2="251.31" y2="333.37" stroke-width="3.59"/><line x1="254.88" y1="339.23" x2="256.86" y2="338.04" stroke-width="3.59"/><line x1="251.31" y1="333.37" x2="247.74" y2="327.63" stroke-width="3.59"/><line x1="251.31" y1="333.37" x2="253.28" y2="332.16" stroke-width="3.59"/><line x1="247.74" y1="327.63" x2="244.11" y2="321.95" stroke-width="3.59"/><line x1="247.74" y1="327.63" x2="249.7" y2="326.4" stroke-width="3.59"/><line x1="244.11" y1="321.95" x2="240.41" y2="316.3" stroke-width="3.58"/><line x1="244.11" y1="321.95" x2="246.05" y2="320.7" stroke-width="3.58"/><line x1="240.41" y1="316.3" x2="236.64" y2="310.69" stroke-width="3.58"/><line x1="240.41" y1="316.3" x2="242.32" y2="315.04" stroke-width="3.56"/><line x1="236.64" y1="310.69" x2="232.9" y2="305.21" stroke-width="3.57"/><line x1="236.64" y1="310.69" x2="238.54" y2="309.4" stroke-width="3.55"/><line x1="232.9" y1="305.21" x2="229.1" y2="299.76" stroke-width="3.57"/><line x1="232.9" y1="305.21" x2="234.77" y2="303.92" stroke-width="3.54"/><line x1="229.1" y1="299.76" x2="225.26" y2="294.33" stroke-width="3.57"/><line x1="229.1" y1="299.76" x2="230.97" y2="298.45" stroke-width="3.54"/><line x1="225.26" y1="294.33" x2="221.29" y2="288.81" stroke-width="3.58"/><line x1="225.26" y1="294.33" x2="227.12" y2="293.01" stroke-width="3.55"/><line x1="221.29" y1="288.81" x2="217.3" y2="283.3" stroke-width="3.59"/><line x1="221.29" y1="288.81" x2="223.17" y2="287.45" stroke-width="3.59"/><line x1="217.3" y1="283.3" x2="213.35" y2="277.92" stroke-width="3.59"/><line x1="217.3" y1="283.3" x2="219.16" y2="281.94" stroke-width="3.59"/><line x1="213.35" y1="277.92" x2="209.31" y2="272.44" stroke-width="3.59"/><line x1="213.35" y1="277.92" x2="215.22" y2="276.55" stroke-width="3.59"/><line x1="209.31" y1="272.44" x2="205.32" y2="267.08" stroke-width="3.58"/><line x1="209.31" y1="272.44" x2="211.16" y2="271.06" stroke-width="3.59"/><line x1="205.32" y1="267.08" x2="201.33" y2="261.73" stroke-width="3.57"/><line x1="205.32" y1="267.08" x2="207.15" y2="265.72" stroke-width="3.54"/><line x1="201.33" y1="261.73" x2="197.31" y2="256.4" stroke-width="3.57"/><line x1="201.33" y1="261.73" x2="203.15" y2="260.36" stroke-width="3.54"/><line x1="197.31" y1="256.4" x2="193.26" y2="251.08" stroke-width="3.57"/><line x1="197.31" y1="256.4" x2="199.12" y2="255.02" stroke-width="3.54"/><line x1="193.26" y1="251.08" x2="189.19" y2="245.79" stroke-width="3.57"/><line x1="193.26" y1="251.08" x2="195.07" y2="249.7" stroke-width="3.54"/><line x1="189.19" y1="245.79" x2="185.09" y2="240.52" stroke-width="3.57"/><line x1="189.19" y1="245.79" x2="190.99" y2="244.4" stroke-width="3.54"/><line x1="185.09" y1="240.52" x2="180.96" y2="235.27" stroke-width="3.57"/><line x1="185.09" y1="240.52" x2="186.89" y2="239.12" stroke-width="3.54"/><line x1="180.96" y1="235.27" x2="176.8" y2="230.06" stroke-width="3.56"/><line x1="180.96" y1="235.27" x2="182.74" y2="233.86" stroke-width="3.53"/><line x1="176.8" y1="230.06" x2="172.68" y2="224.98" stroke-width="3.54"/><line x1="176.8" y1="230.06" x2="178.54" y2="228.65" stroke-width="3.48"/><line x1="172.68" y1="224.98" x2="168.62" y2="220.05" stroke-width="3.52"/><line x1="172.68" y1="224.98" x2="174.39" y2="223.59" stroke-width="3.43"/><line x1="168.62" y1="220.05" x2="164.52" y2="215.15" stroke-width="3.51"/><line x1="168.62" y1="220.05" x2="170.3" y2="218.66" stroke-width="3.38"/><line x1="164.52" y1="215.15" x2="160.38" y2="210.29" stroke-width="3.51"/><line x1="164.52" y1="215.15" x2="166.19" y2="213.75" stroke-width="3.38"/><line x1="160.38" y1="210.29" x2="156.2" y2="205.47" stroke-width="3.51"/><line x1="160.38" y1="210.29" x2="162.03" y2="208.88" stroke-width="3.38"/><line x1="156.2" y1="205.47" x2="151.97" y2="200.69" stroke-width="3.51"/><line x1="156.2" y1="205.47" x2="157.84" y2="204.04" stroke-width="3.38"/><line x1="151.97" y1="200.69" x2="147.69" y2="195.96" stroke-width="3.51"/><line x1="151.97" y1="200.69" x2="153.59" y2="199.24" stroke-width="3.38"/><line x1="147.69" y1="195.96" x2="143.36" y2="191.27" stroke-width="3.51"/><line x1="147.69" y1="195.96" x2="149.3" y2="194.49" stroke-width="3.38"/><line x1="143.36" y1="191.27" x2="139.08" y2="186.73" stroke-width="3.51"/><line x1="143.36" y1="191.27" x2="144.95" y2="189.78" stroke-width="3.38"/><line x1="139.08" y1="186.73" x2="134.64" y2="182.14" stroke-width="3.51"/><line x1="139.08" y1="186.73" x2="140.65" y2="185.23" stroke-width="3.38"/><line x1="134.64" y1="182.14" x2="130.15" y2="177.61" stroke-width="3.5"/><line x1="134.64" y1="182.14" x2="136.2" y2="180.62" stroke-width="3.38"/><line x1="130.15" y1="177.61" x2="125.7" y2="173.22" stroke-width="3.49"/><line x1="130.15" y1="177.61" x2="131.66" y2="176.09" stroke-width="3.33"/><line x1="125.7" y1="173.22" x2="121.2" y2="168.89" stroke-width="3.49"/><line x1="125.7" y1="173.22" x2="127.19" y2="171.69" stroke-width="3.33"/><line x1="121.2" y1="168.89" x2="116.56" y2="164.49" stroke-width="3.49"/><line x1="121.2" y1="168.89" x2="122.68" y2="167.34" stroke-width="3.33"/><line x1="116.56" y1="164.49" x2="112.01" y2="160.21" stroke-width="3.49"/><line x1="116.56" y1="164.49" x2="118.03" y2="162.93" stroke-width="3.33"/><line x1="112.01" y1="160.21" x2="107.45" y2="155.94" stroke-width="3.49"/><line x1="112.01" y1="160.21" x2="113.47" y2="158.64" stroke-width="3.33"/><line x1="107.45" y1="155.94" x2="102.88" y2="151.67" stroke-width="3.49"/><line x1="107.45" y1="155.94" x2="108.91" y2="154.37" stroke-width="3.33"/><line x1="102.88" y1="151.67" x2="98.23" y2="147.29" stroke-width="3.5"/><line x1="102.88" y1="151.67" x2="104.35" y2="150.1" stroke-width="3.33"/><line x1="98.23" y1="147.29" x2="93.63" y2="142.87" stroke-width="3.53"/><line x1="98.23" y1="147.29" x2="99.73" y2="145.71" stroke-width="3.37"/><line x1="93.63" y1="142.87" x2="88.94" y2="138.02" stroke-width="3.59"/><line x1="93.63" y1="142.87" x2="95.2" y2="141.28" stroke-width="3.48"/><line x1="88.94" y1="138.02" x2="84.37" y2="132.41" stroke-width="3.67"/><line x1="88.94" y1="138.02" x2="90.71" y2="136.42" stroke-width="3.69"/><line x1="84.37" y1="132.41" x2="80.53" y2="126.14" stroke-width="3.73"/><line x1="84.37" y1="132.41" x2="86.4" y2="130.94" stroke-width="3.9"/><line x1="80.53" y1="126.14" x2="77.68" y2="118.92" stroke-width="3.77"/><line x1="80.53" y1="126.14" x2="82.84" y2="124.98" stroke-width="4.01"/><line x1="77.68" y1="118.92" x2="75.96" y2="111.19" stroke-width="3.82"/><line x1="77.68" y1="118.92" x2="80.22" y2="118.15" stroke-width="4.12"/><line x1="75.96" y1="111.19" x2="75.26" y2="102.99" stroke-width="3.88"/><line x1="75.96" y1="111.19" x2="78.69" y2="110.78" stroke-width="4.28"/><circle cx="75.26" cy="102.99" r="2.86"/><circle cx="78.11" cy="102.92" r="2.72"/><circle cx="75.56" cy="94.62" r="2.87"/><circle cx="78.44" cy="94.89" r="2.75"/><circle cx="76.83" cy="86.27" r="2.89"/><circle cx="79.69" cy="86.86" r="2.79"/><circle cx="78.96" cy="77.93" r="2.89"/><circle cx="81.76" cy="78.78" r="2.79"/><circle cx="81.75" cy="69.85" r="2.88"/><circle cx="84.45" cy="70.89" r="2.76"/><circle cx="85.02" cy="62.18" r="2.86"/><circle cx="87.6" cy="63.41" r="2.72"/><circle cx="88.94" cy="54.83" r="2.85"/><circle cx="91.36" cy="56.28" r="2.69"/><circle cx="93.56" cy="48.11" r="2.81"/><circle cx="95.71" cy="49.8" r="2.6"/><circle cx="98.77" cy="42.41" r="2.73"/><circle cx="100.52" cy="44.27" r="2.43"/><circle cx="104.5" cy="37.79" r="2.67"/><circle cx="105.88" cy="39.81" r="2.31"/><circle cx="110.51" cy="34.36" r="2.63"/><circle cx="111.5" cy="36.48" r="2.22"/><circle cx="116.79" cy="32.1" r="2.56"/><circle cx="117.32" cy="34.2" r="2.05"/><circle cx="122.87" cy="31.19" r="2.51"/><circle cx="122.96" cy="33.24" r="1.95"/><circle cx="128.84" cy="31.58" r="2.5"/><circle cx="128.5" cy="33.59" r="1.93"/><circle cx="134.5" cy="33.11" r="2.5"/><circle cx="133.79" cy="35.02" r="1.93"/><circle cx="139.87" cy="35.68" r="2.49"/><circle cx="144.67" cy="39.19" r="2.51"/><circle cx="143.31" cy="40.74" r="1.95"/><circle cx="149.04" cy="43.75" r="2.59"/><circle cx="147.29" cy="45.17" r="2.14"/><circle cx="152.95" cy="49.37" r="2.67"/><circle cx="150.87" cy="50.62" r="2.3"/><circle cx="156.3" cy="55.73" r="2.71"/><circle cx="154.03" cy="56.79" r="2.38"/><circle cx="159.17" cy="62.56" r="2.72"/><circle cx="156.79" cy="63.47" r="2.42"/><circle cx="161.7" cy="69.65" r="2.71"/><circle cx="159.31" cy="70.46" r="2.4"/><circle cx="163.97" cy="76.56" r="2.71"/><circle cx="161.57" cy="77.33" r="2.39"/><circle cx="166.29" cy="83.66" r="2.71"/><circle cx="163.9" cy="84.45" r="2.39"/><circle cx="168.63" cy="90.64" r="2.71"/><circle cx="166.25" cy="91.45" r="2.39"/><circle cx="171.04" cy="97.64" r="2.71"/><circle cx="168.67" cy="98.47" r="2.39"/><circle cx="173.48" cy="104.56" r="2.71"/><circle cx="171.1" cy="105.41" r="2.39"/><circle cx="175.93" cy="111.43" r="2.71"/><circle cx="173.57" cy="112.28" r="2.39"/><circle cx="178.47" cy="118.39" r="2.71"/><circle cx="176.11" cy="119.26" r="2.39"/><circle cx="181.03" cy="125.34" r="2.71"/><circle cx="178.68" cy="126.22" r="2.39"/><circle cx="183.58" cy="132.18" r="2.71"/><circle cx="181.23" cy="133.07" r="2.39"/><circle cx="186.22" cy="139.18" r="2.71"/><circle cx="183.87" cy="140.07" r="2.39"/><circle cx="188.85" cy="146.06" r="2.7"/><circle cx="186.52" cy="146.95" r="2.37"/><circle cx="191.47" cy="152.81" r="2.69"/><circle cx="189.16" cy="153.72" r="2.36"/><circle cx="194.15" cy="159.56" r="2.69"/><circle cx="191.84" cy="160.48" r="2.36"/><circle cx="196.88" cy="166.3" r="2.69"/><circle cx="194.58" cy="167.25" r="2.36"/><circle cx="199.67" cy="173.03" r="2.69"/><circle cx="197.38" cy="173.99" r="2.36"/><circle cx="202.53" cy="179.73" r="2.69"/><circle cx="200.25" cy="180.72" r="2.36"/><circle cx="205.46" cy="186.4" r="2.69"/><circle cx="203.2" cy="187.41" r="2.36"/><circle cx="208.42" cy="192.9" r="2.69"/><circle cx="206.18" cy="193.93" r="2.34"/><circle cx="211.51" cy="199.49" r="2.68"/><circle cx="209.3" cy="200.54" r="2.33"/><circle cx="214.63" cy="205.89" r="2.67"/><circle cx="212.45" cy="206.97" r="2.31"/><circle cx="217.84" cy="212.23" r="2.66"/><circle cx="215.71" cy="213.33" r="2.28"/><circle cx="221.07" cy="218.38" r="2.64"/><circle cx="218.99" cy="219.5" r="2.24"/><circle cx="224.34" cy="224.34" r="2.63"/><circle cx="222.29" cy="225.49" r="2.23"/><circle cx="227.77" cy="230.35" r="2.63"/><circle cx="225.76" cy="231.53" r="2.21"/><circle cx="231.24" cy="236.16" r="2.61"/><circle cx="229.28" cy="237.36" r="2.18"/><circle cx="234.82" cy="241.9" r="2.6"/><circle cx="232.9" cy="243.12" r="2.16"/><circle cx="238.43" cy="247.44" r="2.6"/><circle cx="236.54" cy="248.7" r="2.16"/><circle cx="242.17" cy="252.9" r="2.6"/><circle cx="240.32" cy="254.19" r="2.14"/><circle cx="246.03" cy="258.28" r="2.59"/><circle cx="244.22" cy="259.61" r="2.13"/><circle cx="250.01" cy="263.58" r="2.58"/><circle cx="248.25" cy="264.94" r="2.11"/><circle cx="253.96" cy="268.58" r="2.57"/><circle cx="252.24" cy="269.97" r="2.1"/><circle cx="258.12" cy="273.61" r="2.57"/><circle cx="256.45" cy="275.03" r="2.08"/><circle cx="262.33" cy="278.45" r="2.56"/><circle cx="260.71" cy="279.9" r="2.06"/><circle cx="266.58" cy="283.1" r="2.56"/><circle cx="265" cy="284.59" r="2.06"/><circle cx="271.07" cy="287.77" r="2.56"/><circle cx="269.52" cy="289.3" r="2.06"/><circle cx="275.61" cy="292.26" r="2.56"/><circle cx="274.1" cy="293.83" r="2.06"/><circle cx="280.18" cy="296.57" r="2.56"/><circle cx="278.71" cy="298.17" r="2.06"/><circle cx="284.96" cy="300.91" r="2.56"/><circle cx="283.49" cy="302.53" r="2.07"/><circle cx="289.69" cy="305.26" r="2.58"/><circle cx="288.17" cy="306.88" r="2.1"/><circle cx="294.3" cy="309.78" r="2.59"/><circle cx="292.68" cy="311.34" r="2.14"/><circle cx="298.77" cy="314.75" r="2.61"/><circle cx="297" cy="316.2" r="2.17"/><circle cx="302.71" cy="320.21" r="2.63"/><circle cx="300.73" cy="321.44" r="2.21"/><circle cx="305.84" cy="326.4" r="2.66"/><circle cx="303.6" cy="327.27" r="2.29"/><circle cx="307.64" cy="333.39" r="2.69"/><circle cx="305.18" cy="333.71" r="2.36"/><circle cx="307.71" cy="340.65" r="2.72"/><circle cx="305.18" cy="340.38" r="2.42"/><circle cx="306.2" cy="348.01" r="2.74"/><circle cx="303.72" cy="347.26" r="2.46"/><circle cx="303.31" cy="355.11" r="2.74"/><circle cx="301.02" cy="353.92" r="2.46"/><circle cx="299.24" cy="361.31" r="2.73"/><circle cx="297.28" cy="359.67" r="2.43"/><circle cx="293.71" cy="366.22" r="2.68"/><circle cx="292.42" cy="364.13" r="2.34"/><circle cx="287.19" cy="368.63" r="2.63"/><circle cx="286.84" cy="366.31" r="2.23"/><circle cx="280.38" cy="368.32" r="2.61"/><circle cx="280.92" cy="366.09" r="2.18"/><circle cx="274.46" cy="365.73" r="2.57"/><circle cx="275.68" cy="363.89" r="2.09"/><circle cx="269.58" cy="361.5" r="2.57"/><circle cx="271.19" cy="360" r="2.08"/><circle cx="265.5" cy="356.43" r="2.6"/><circle cx="267.35" cy="355.12" r="2.15"/><circle cx="261.86" cy="350.87" r="2.62"/><circle cx="263.83" cy="349.66" r="2.19"/><circle cx="258.35" cy="345.03" r="2.62"/><circle cx="260.34" cy="343.85" r="2.19"/><circle cx="254.88" cy="339.23" r="2.62"/><circle cx="256.86" cy="338.04" r="2.19"/><circle cx="251.31" cy="333.37" r="2.62"/><circle cx="253.28" cy="332.16" r="2.19"/><circle cx="247.74" cy="327.63" r="2.62"/><circle cx="249.7" cy="326.4" r="2.19"/><circle cx="244.11" cy="321.95" r="2.62"/><circle cx="246.05" cy="320.7" r="2.19"/><circle cx="240.41" cy="316.3" r="2.61"/><circle cx="242.32" cy="315.04" r="2.18"/><circle cx="236.64" cy="310.69" r="2.61"/><circle cx="238.54" cy="309.4" r="2.17"/><circle cx="232.9" cy="305.21" r="2.6"/><circle cx="234.77" cy="303.92" r="2.16"/><circle cx="229.1" cy="299.76" r="2.6"/><circle cx="230.97" cy="298.45" r="2.16"/><circle cx="225.26" cy="294.33" r="2.61"/><circle cx="227.12" cy="293.01" r="2.17"/><circle cx="221.29" cy="288.81" r="2.62"/><circle cx="223.17" cy="287.45" r="2.19"/><circle cx="217.3" cy="283.3" r="2.62"/><circle cx="219.16" cy="281.94" r="2.19"/><circle cx="213.35" cy="277.92" r="2.62"/><circle cx="215.22" cy="276.55" r="2.19"/><circle cx="209.31" cy="272.44" r="2.62"/><circle cx="211.16" cy="271.06" r="2.19"/><circle cx="205.32" cy="267.08" r="2.6"/><circle cx="207.15" cy="265.72" r="2.16"/><circle cx="201.33" cy="261.73" r="2.6"/><circle cx="203.15" cy="260.36" r="2.16"/><circle cx="197.31" cy="256.4" r="2.6"/><circle cx="199.12" cy="255.02" r="2.16"/><circle cx="193.26" cy="251.08" r="2.6"/><circle cx="195.07" cy="249.7" r="2.16"/><circle cx="189.19" cy="245.79" r="2.6"/><circle cx="190.99" cy="244.4" r="2.16"/><circle cx="185.09" cy="240.52" r="2.6"/><circle cx="186.89" cy="239.12" r="2.16"/><circle cx="180.96" cy="235.27" r="2.6"/><circle cx="182.74" cy="233.86" r="2.16"/><circle cx="176.8" cy="230.06" r="2.59"/><circle cx="178.54" cy="228.65" r="2.13"/><circle cx="172.68" cy="224.98" r="2.57"/><circle cx="174.39" cy="223.59" r="2.09"/><circle cx="168.62" cy="220.05" r="2.56"/><circle cx="170.3" cy="218.66" r="2.06"/><circle cx="164.52" cy="215.15" r="2.56"/><circle cx="166.19" cy="213.75" r="2.06"/><circle cx="160.38" cy="210.29" r="2.56"/><circle cx="162.03" cy="208.88" r="2.06"/><circle cx="156.2" cy="205.47" r="2.56"/><circle cx="157.84" cy="204.04" r="2.06"/><circle cx="151.97" cy="200.69" r="2.56"/><circle cx="153.59" cy="199.24" r="2.06"/><circle cx="147.69" cy="195.96" r="2.56"/><circle cx="149.3" cy="194.49" r="2.06"/><circle cx="143.36" cy="191.27" r="2.56"/><circle cx="144.95" cy="189.78" r="2.06"/><circle cx="139.08" cy="186.73" r="2.56"/><circle cx="140.65" cy="185.23" r="2.06"/><circle cx="134.64" cy="182.14" r="2.56"/><circle cx="136.2" cy="180.62" r="2.06"/><circle cx="130.15" cy="177.61" r="2.55"/><circle cx="131.66" cy="176.09" r="2.03"/><circle cx="125.7" cy="173.22" r="2.54"/><circle cx="127.19" cy="171.69" r="2.03"/><circle cx="121.2" cy="168.89" r="2.54"/><circle cx="122.68" cy="167.34" r="2.03"/><circle cx="116.56" cy="164.49" r="2.54"/><circle cx="118.03" cy="162.93" r="2.03"/><circle cx="112.01" cy="160.21" r="2.54"/><circle cx="113.47" cy="158.64" r="2.03"/><circle cx="107.45" cy="155.94" r="2.54"/><circle cx="108.91" cy="154.37" r="2.03"/><circle cx="102.88" cy="151.67" r="2.54"/><circle cx="104.35" cy="150.1" r="2.03"/><circle cx="98.23" cy="147.29" r="2.56"/><circle cx="99.73" cy="145.71" r="2.06"/><circle cx="93.63" cy="142.87" r="2.59"/><circle cx="95.2" cy="141.28" r="2.12"/><circle cx="88.94" cy="138.02" r="2.65"/><circle cx="90.71" cy="136.42" r="2.26"/><circle cx="84.37" cy="132.41" r="2.71"/><circle cx="86.4" cy="130.94" r="2.38"/><circle cx="80.53" cy="126.14" r="2.74"/><circle cx="82.84" cy="124.98" r="2.46"/><circle cx="77.68" cy="118.92" r="2.77"/><circle cx="80.22" cy="118.15" r="2.52"/><circle cx="75.96" cy="111.19" r="2.82"/><circle cx="78.69" cy="110.78" r="2.62"/></g>
<path d="M73.66 103.03L73.97 94.47L67.04 93.8L66.7 103.19ZM73.97 94.47L75.26 85.95L68.44 84.55L67.04 93.8ZM75.26 85.95L77.43 77.47L70.77 75.44L68.44 84.55ZM77.43 77.47L80.26 69.28L73.76 66.78L70.77 75.44ZM80.26 69.28L83.57 61.5L77.28 58.52L73.76 66.78ZM83.57 61.5L87.57 54L81.61 50.41L77.28 58.52ZM87.57 54L92.31 47.12L86.85 42.8L81.61 50.41ZM92.31 47.12L97.67 41.25L93.13 36.41L86.85 42.8ZM97.67 41.25L103.6 36.47L100.08 31.31L93.13 36.41ZM103.6 36.47L109.84 32.91L107.36 27.6L100.08 31.31ZM109.84 32.91L116.39 30.55L115.11 25.52L107.36 27.6ZM116.39 30.55L122.79 29.59L122.62 25.54L115.11 25.52ZM122.79 29.59L129.11 30L129.59 27.21L122.62 25.54ZM129.11 30L134.95 31.89L135.41 30.67L129.59 27.21ZM134.95 31.89L139.57 36.18L139.27 36.69L135.41 30.67ZM139.57 36.18L143.18 40.89L141.69 42.59L139.27 36.69ZM143.18 40.89L146.48 45.83L143.56 48.2L141.69 42.59ZM146.48 45.83L150.12 51.07L145.46 53.86L143.56 48.2ZM150.12 51.07L153.31 57.13L147.56 59.8L145.46 53.86ZM153.31 57.13L156.09 63.74L150.05 66.04L147.56 59.8ZM156.09 63.74L158.57 70.71L152.45 72.77L150.05 66.04ZM158.57 70.71L160.83 77.57L154.68 79.56L152.45 72.77ZM160.83 77.57L163.16 84.7L157.03 86.73L154.68 79.56ZM163.16 84.7L165.51 91.7L159.39 93.78L157.03 86.73ZM165.51 91.7L167.93 98.73L161.82 100.85L159.39 93.78ZM167.93 98.73L170.37 105.67L164.28 107.83L161.82 100.85ZM170.37 105.67L172.83 112.55L166.75 114.74L164.28 107.83ZM172.83 112.55L175.37 119.53L169.31 121.75L166.75 114.74ZM175.37 119.53L177.94 126.49L171.88 128.74L169.31 121.75ZM177.94 126.49L180.49 133.34L174.44 135.61L171.88 128.74ZM180.49 133.34L183.13 140.35L177.34 142.55L174.44 135.61ZM183.13 140.35L185.77 147.24L180.11 149.42L177.34 142.55ZM185.77 147.24L188.4 154.02L182.76 156.23L180.11 149.42ZM188.4 154.02L191.08 160.79L185.7 162.94L182.76 156.23ZM191.08 160.79L193.82 167.56L188.59 169.7L185.7 162.94ZM193.82 167.56L196.63 174.31L191.41 176.5L188.59 169.7ZM196.63 174.31L199.5 181.04L194.31 183.29L191.41 176.5ZM199.5 181.04L202.45 187.75L197.28 190.06L194.31 183.29ZM202.45 187.75L205.42 194.28L200.28 196.66L197.28 190.06ZM205.42 194.28L208.53 200.91L203.43 203.35L200.28 196.66ZM208.53 200.91L211.67 207.36L206.6 209.87L203.43 203.35ZM211.67 207.36L214.9 213.75L210.05 216.25L206.6 209.87ZM214.9 213.75L218.17 219.95L213.53 222.43L210.05 216.25ZM218.17 219.95L221.46 225.95L216.87 228.52L213.53 222.43ZM221.46 225.95L224.92 232.02L220.38 234.67L216.87 228.52ZM224.92 232.02L228.42 237.88L223.93 240.62L220.38 234.67ZM228.42 237.88L232.03 243.67L227.6 246.5L223.93 240.62ZM232.03 243.67L235.69 249.27L231.48 252.08L227.6 246.5ZM235.69 249.27L239.46 254.79L235.48 257.58L231.48 252.08ZM239.46 254.79L243.37 260.23L239.45 263.11L235.48 257.58ZM243.37 260.23L247.4 265.6L243.55 268.56L239.45 263.11ZM247.4 265.6L251.39 270.66L247.61 273.71L243.55 268.56ZM251.39 270.66L255.61 275.75L251.9 278.89L247.61 273.71ZM255.61 275.75L259.87 280.64L256.24 283.88L251.9 278.89ZM259.87 280.64L264.17 285.36L260.63 288.68L256.24 283.88ZM264.17 285.36L268.72 290.09L265.26 293.5L260.63 288.68ZM268.72 290.09L273.32 294.64L269.94 298.13L265.26 293.5ZM273.32 294.64L277.95 299L274.73 302.5L269.94 298.13ZM277.95 299L282.75 303.36L279.75 306.66L274.73 302.5ZM282.75 303.36L287.61 307.47L284.37 310.91L279.75 306.66ZM287.61 307.47L292.62 311.4L288.73 315.18L284.37 310.91ZM292.62 311.4L296.48 316.63L292.77 319.67L288.73 315.18ZM296.48 316.63L299.72 322.07L296.02 324.38L292.77 319.67ZM299.72 322.07L302.22 327.8L298.07 329.41L296.02 324.38ZM302.22 327.8L303.67 333.91L298.98 334.53L298.07 329.41ZM303.67 333.91L303.73 340.23L298.64 339.7L298.98 334.53ZM303.73 340.23L302.37 346.85L297.24 345.29L298.64 339.7ZM302.37 346.85L299.78 353.28L295.03 350.81L297.24 345.29ZM299.78 353.28L296.31 358.86L292.34 355.55L295.03 350.81ZM296.31 358.86L291.9 363.3L289.38 359.22L292.34 355.55ZM291.9 363.3L286.74 365.68L286.09 361.39L289.38 359.22ZM286.74 365.68L280.91 366.12L281.45 363.92L286.09 361.39ZM280.91 366.12L273.58 367.06L272.26 369.08L281.45 363.92ZM273.58 367.06L268.41 362.59L264.86 365.9L272.26 369.08ZM268.41 362.59L264.2 357.35L260.42 360.04L264.86 365.9ZM264.2 357.35L260.5 351.71L256.55 354.15L260.42 360.04ZM260.5 351.71L256.98 345.85L252.99 348.22L256.55 354.15ZM256.98 345.85L253.51 340.06L249.54 342.45L252.99 348.22ZM253.51 340.06L249.95 334.21L246 336.64L249.54 342.45ZM249.95 334.21L246.39 328.48L242.46 330.96L246 336.64ZM246.39 328.48L242.77 322.82L238.87 325.34L242.46 330.96ZM242.77 322.82L239.08 317.19L235.21 319.75L238.87 325.34ZM239.08 317.19L235.32 311.58L231.48 314.19L235.21 319.75ZM235.32 311.58L231.58 306.12L227.76 308.76L231.48 314.19ZM231.58 306.12L227.79 300.68L224 303.35L227.76 308.76ZM227.79 300.68L223.96 295.26L220.18 297.96L224 303.35ZM223.96 295.26L220 289.74L216.24 292.46L220.18 297.96ZM220 289.74L216 284.24L212.26 286.98L216.24 292.46ZM216 284.24L212.06 278.87L208.33 281.62L212.26 286.98ZM212.06 278.87L208.02 273.39L204.29 276.15L208.33 281.62ZM208.02 273.39L204.04 268.03L200.32 270.81L204.29 276.15ZM204.04 268.03L200.05 262.69L196.33 265.48L200.32 270.81ZM200.05 262.69L196.03 257.36L192.27 260.21L196.33 265.48ZM196.03 257.36L191.99 252.06L188.2 254.96L192.27 260.21ZM191.99 252.06L187.93 246.77L184.1 249.73L188.2 254.96ZM187.93 246.77L183.83 241.51L179.97 244.53L184.1 249.73ZM183.83 241.51L179.71 236.27L175.82 239.35L179.97 244.53ZM179.71 236.27L175.55 231.06L171.68 234.17L175.82 239.35ZM175.55 231.06L171.44 226L167.6 229.13L171.68 234.17ZM171.44 226L167.39 221.07L163.57 224.24L167.6 229.13ZM167.39 221.07L163.3 216.19L159.51 219.39L163.57 224.24ZM163.3 216.19L159.17 211.34L155.41 214.57L159.51 219.39ZM159.17 211.34L155 206.53L151.26 209.8L155.41 214.57ZM155 206.53L150.78 201.76L147.08 205.06L151.26 209.8ZM150.78 201.76L146.51 197.04L142.85 200.38L147.08 205.06ZM146.51 197.04L142.19 192.36L138.57 195.74L142.85 200.38ZM142.19 192.36L137.92 187.84L134.33 191.26L138.57 195.74ZM137.92 187.84L133.5 183.26L129.95 186.73L134.33 191.26ZM133.5 183.26L129.02 178.74L125.52 182.25L129.95 186.73ZM129.02 178.74L124.58 174.37L121.12 177.93L125.52 182.25ZM124.58 174.37L120.09 170.04L116.67 173.63L121.12 177.93ZM120.09 170.04L115.47 165.65L112.06 169.26L116.67 173.63ZM115.47 165.65L110.92 161.37L107.53 164.99L112.06 169.26ZM110.92 161.37L106.35 157.11L102.97 160.73L107.53 164.99ZM106.35 157.11L101.79 152.83L98.4 156.45L102.97 160.73ZM101.79 152.83L97.13 148.45L93.73 152.06L98.4 156.45ZM97.13 148.45L92.51 144.02L88.92 147.66L93.73 152.06ZM92.51 144.02L87.76 139.09L83.61 142.83L88.92 147.66ZM87.76 139.09L83.07 133.35L78.17 136.89L83.61 142.83ZM83.07 133.35L79.1 126.86L73.26 129.8L78.17 136.89ZM79.1 126.86L76.15 119.38L69.64 121.34L73.26 129.8ZM76.15 119.38L74.38 111.43L67.5 112.47L69.64 121.34ZM74.38 111.43L73.66 103.03L66.7 103.19L67.5 112.47Z" fill="#1c1c1c" stroke="#1c1c1c" stroke-width="0.8" stroke-linejoin="round"/>
<g stroke="#2b2b2b" stroke-linecap="round"><line x1="71.24" y1="103.09" x2="67.58" y2="103.17" stroke-width="6.22"/><line x1="71.53" y1="94.23" x2="67.96" y2="93.89" stroke-width="6.29"/><line x1="72.83" y1="85.45" x2="69.38" y2="84.74" stroke-width="6.36"/><line x1="75.06" y1="76.75" x2="71.68" y2="75.72" stroke-width="6.36"/><line x1="77.97" y1="68.4" x2="74.62" y2="67.11" stroke-width="6.29"/><line x1="81.38" y1="60.47" x2="78.08" y2="58.9" stroke-width="6.22"/><line x1="85.52" y1="52.77" x2="82.33" y2="50.85" stroke-width="6.14"/><line x1="90.49" y1="45.68" x2="87.44" y2="43.27" stroke-width="5.95"/><line x1="96.19" y1="39.67" x2="93.57" y2="36.88" stroke-width="5.56"/><line x1="102.44" y1="34.77" x2="100.43" y2="31.83" stroke-width="5.3"/><line x1="109" y1="31.12" x2="107.62" y2="28.15" stroke-width="5.09"/><line x1="115.94" y1="28.78" x2="115.26" y2="26.1" stroke-width="4.72"/><line x1="122.72" y1="27.85" x2="122.65" y2="26.3" stroke-width="4.48"/><line x1="129.4" y1="28.3" x2="129.41" y2="28.25" stroke-width="4.44"/><line x1="135.56" y1="30.27" x2="135.59" y2="30.18" stroke-width="4.44"/><line x1="138.69" y1="37.65" x2="138.64" y2="37.73" stroke-width="4.38"/><line x1="142.03" y1="42.21" x2="141.96" y2="42.28" stroke-width="4.49"/><line x1="145" y1="47.03" x2="144.04" y2="47.81" stroke-width="4.9"/><line x1="148.36" y1="52.12" x2="145.79" y2="53.67" stroke-width="5.28"/><line x1="151.39" y1="58.02" x2="147.78" y2="59.7" stroke-width="5.45"/><line x1="154.07" y1="64.51" x2="150.29" y2="65.95" stroke-width="5.53"/><line x1="156.55" y1="71.39" x2="152.67" y2="72.7" stroke-width="5.49"/><line x1="158.8" y1="78.23" x2="154.89" y2="79.49" stroke-width="5.48"/><line x1="161.14" y1="85.37" x2="157.24" y2="86.66" stroke-width="5.48"/><line x1="163.49" y1="92.38" x2="159.6" y2="93.7" stroke-width="5.48"/><line x1="165.91" y1="99.43" x2="162.04" y2="100.77" stroke-width="5.48"/><line x1="168.36" y1="106.38" x2="164.49" y2="107.75" stroke-width="5.48"/><line x1="170.83" y1="113.27" x2="166.97" y2="114.67" stroke-width="5.48"/><line x1="173.37" y1="120.26" x2="169.52" y2="121.67" stroke-width="5.48"/><line x1="175.94" y1="127.23" x2="172.09" y2="128.66" stroke-width="5.48"/><line x1="178.5" y1="134.09" x2="174.65" y2="135.53" stroke-width="5.48"/><line x1="181.14" y1="141.11" x2="177.61" y2="142.45" stroke-width="5.48"/><line x1="183.8" y1="148" x2="180.39" y2="149.31" stroke-width="5.43"/><line x1="186.44" y1="154.78" x2="183.03" y2="156.12" stroke-width="5.4"/><line x1="189.13" y1="161.57" x2="186.03" y2="162.81" stroke-width="5.4"/><line x1="191.88" y1="168.35" x2="188.95" y2="169.56" stroke-width="5.4"/><line x1="194.69" y1="175.12" x2="191.77" y2="176.35" stroke-width="5.4"/><line x1="197.57" y1="181.88" x2="194.67" y2="183.14" stroke-width="5.4"/><line x1="200.53" y1="188.6" x2="197.64" y2="189.9" stroke-width="5.4"/><line x1="203.53" y1="195.16" x2="200.62" y2="196.5" stroke-width="5.36"/><line x1="206.66" y1="201.8" x2="203.74" y2="203.2" stroke-width="5.33"/><line x1="209.83" y1="208.27" x2="206.9" y2="209.72" stroke-width="5.29"/><line x1="213.1" y1="214.68" x2="210.36" y2="216.09" stroke-width="5.22"/><line x1="216.4" y1="220.89" x2="213.85" y2="222.26" stroke-width="5.14"/><line x1="219.72" y1="226.92" x2="217.17" y2="228.35" stroke-width="5.11"/><line x1="223.22" y1="233.01" x2="220.66" y2="234.5" stroke-width="5.07"/><line x1="226.76" y1="238.89" x2="224.18" y2="240.47" stroke-width="5"/><line x1="230.41" y1="244.71" x2="227.83" y2="246.36" stroke-width="4.96"/><line x1="234.08" y1="250.34" x2="231.75" y2="251.9" stroke-width="4.96"/><line x1="237.9" y1="255.89" x2="235.77" y2="257.37" stroke-width="4.92"/><line x1="241.83" y1="261.36" x2="239.72" y2="262.91" stroke-width="4.88"/><line x1="245.91" y1="266.75" x2="243.8" y2="268.37" stroke-width="4.85"/><line x1="249.93" y1="271.83" x2="247.84" y2="273.52" stroke-width="4.81"/><line x1="254.19" y1="276.95" x2="252.12" y2="278.71" stroke-width="4.78"/><line x1="258.49" y1="281.87" x2="256.44" y2="283.7" stroke-width="4.74"/><line x1="262.83" y1="286.62" x2="260.82" y2="288.5" stroke-width="4.74"/><line x1="267.41" y1="291.38" x2="265.45" y2="293.32" stroke-width="4.74"/><line x1="272.04" y1="295.96" x2="270.13" y2="297.94" stroke-width="4.74"/><line x1="276.7" y1="300.36" x2="274.93" y2="302.29" stroke-width="4.74"/><line x1="281.5" y1="304.73" x2="280" y2="306.39" stroke-width="4.75"/><line x1="286.33" y1="308.83" x2="284.65" y2="310.62" stroke-width="4.83"/><line x1="291.25" y1="312.73" x2="289.04" y2="314.87" stroke-width="4.9"/><line x1="294.98" y1="317.86" x2="293.14" y2="319.37" stroke-width="4.98"/><line x1="298.04" y1="323.12" x2="296.44" y2="324.12" stroke-width="5.08"/><line x1="300.32" y1="328.54" x2="298.51" y2="329.24" stroke-width="5.24"/><line x1="301.59" y1="334.18" x2="299.41" y2="334.47" stroke-width="5.39"/><line x1="301.59" y1="340.01" x2="299.05" y2="339.74" stroke-width="5.53"/><line x1="300.27" y1="346.21" x2="297.62" y2="345.4" stroke-width="5.62"/><line x1="297.84" y1="352.27" x2="295.39" y2="351" stroke-width="5.62"/><line x1="294.65" y1="357.48" x2="292.69" y2="355.84" stroke-width="5.55"/><line x1="290.81" y1="361.53" x2="289.67" y2="359.68" stroke-width="5.35"/><line x1="286.45" y1="363.71" x2="286.19" y2="362.03" stroke-width="5.1"/><line x1="281.37" y1="364.23" x2="281.39" y2="364.14" stroke-width="4.99"/><line x1="272.56" y1="368.62" x2="272.5" y2="368.7" stroke-width="4.79"/><line x1="267.04" y1="363.86" x2="265.38" y2="365.41" stroke-width="4.79"/><line x1="262.63" y1="358.47" x2="261.1" y2="359.56" stroke-width="4.93"/><line x1="258.83" y1="352.74" x2="257.3" y2="353.68" stroke-width="5.03"/><line x1="255.29" y1="346.85" x2="253.75" y2="347.77" stroke-width="5.03"/><line x1="251.83" y1="341.07" x2="250.3" y2="342" stroke-width="5.03"/><line x1="248.28" y1="335.23" x2="246.75" y2="336.17" stroke-width="5.03"/><line x1="244.73" y1="329.53" x2="243.21" y2="330.49" stroke-width="5.03"/><line x1="241.13" y1="323.88" x2="239.61" y2="324.86" stroke-width="5.02"/><line x1="237.46" y1="318.26" x2="235.94" y2="319.27" stroke-width="5"/><line x1="233.72" y1="312.67" x2="232.19" y2="313.7" stroke-width="4.98"/><line x1="229.99" y1="307.22" x2="228.47" y2="308.27" stroke-width="4.96"/><line x1="226.21" y1="301.79" x2="224.69" y2="302.86" stroke-width="4.96"/><line x1="222.38" y1="296.38" x2="220.88" y2="297.46" stroke-width="4.97"/><line x1="218.41" y1="290.89" x2="216.96" y2="291.94" stroke-width="5.03"/><line x1="214.42" y1="285.4" x2="212.97" y2="286.45" stroke-width="5.03"/><line x1="210.49" y1="280.03" x2="209.04" y2="281.09" stroke-width="5.03"/><line x1="206.45" y1="274.55" x2="205" y2="275.62" stroke-width="5.03"/><line x1="202.49" y1="269.19" x2="201" y2="270.3" stroke-width="4.96"/><line x1="198.5" y1="263.85" x2="197.01" y2="264.97" stroke-width="4.96"/><line x1="194.49" y1="258.53" x2="192.94" y2="259.71" stroke-width="4.96"/><line x1="190.46" y1="253.23" x2="188.85" y2="254.46" stroke-width="4.96"/><line x1="186.4" y1="247.95" x2="184.73" y2="249.24" stroke-width="4.96"/><line x1="182.31" y1="242.69" x2="180.59" y2="244.04" stroke-width="4.96"/><line x1="178.2" y1="237.46" x2="176.42" y2="238.87" stroke-width="4.95"/><line x1="174.07" y1="232.25" x2="172.26" y2="233.71" stroke-width="4.88"/><line x1="169.99" y1="227.18" x2="168.14" y2="228.69" stroke-width="4.81"/><line x1="165.97" y1="222.25" x2="164.09" y2="223.82" stroke-width="4.74"/><line x1="161.89" y1="217.38" x2="160.02" y2="218.96" stroke-width="4.74"/><line x1="157.77" y1="212.54" x2="155.91" y2="214.14" stroke-width="4.74"/><line x1="153.61" y1="207.74" x2="151.76" y2="209.36" stroke-width="4.74"/><line x1="149.4" y1="202.99" x2="147.57" y2="204.62" stroke-width="4.74"/><line x1="145.15" y1="198.28" x2="143.34" y2="199.93" stroke-width="4.74"/><line x1="140.84" y1="193.62" x2="139.05" y2="195.29" stroke-width="4.74"/><line x1="136.59" y1="189.11" x2="134.81" y2="190.8" stroke-width="4.74"/><line x1="132.18" y1="184.55" x2="130.43" y2="186.26" stroke-width="4.74"/><line x1="127.74" y1="180.03" x2="125.96" y2="181.81" stroke-width="4.67"/><line x1="123.31" y1="175.67" x2="121.56" y2="177.48" stroke-width="4.66"/><line x1="118.84" y1="171.36" x2="117.1" y2="173.18" stroke-width="4.66"/><line x1="114.22" y1="166.97" x2="112.49" y2="168.8" stroke-width="4.66"/><line x1="109.68" y1="162.7" x2="107.95" y2="164.54" stroke-width="4.66"/><line x1="105.11" y1="158.43" x2="103.4" y2="160.27" stroke-width="4.66"/><line x1="100.55" y1="154.16" x2="98.83" y2="155.99" stroke-width="4.66"/><line x1="95.87" y1="149.79" x2="94.18" y2="151.58" stroke-width="4.73"/><line x1="91.18" y1="145.37" x2="89.41" y2="147.16" stroke-width="4.88"/><line x1="86.26" y1="140.44" x2="84.15" y2="142.35" stroke-width="5.17"/><line x1="81.35" y1="134.59" x2="78.77" y2="136.45" stroke-width="5.46"/><line x1="77.15" y1="127.84" x2="73.88" y2="129.48" stroke-width="5.62"/><line x1="74" y1="120.03" x2="70.32" y2="121.14" stroke-width="5.77"/><line x1="72.07" y1="111.78" x2="68.27" y2="112.35" stroke-width="6"/></g>
<g stroke-linecap="round"><line x1="70.69" y1="103.1" x2="67.77" y2="103.17" stroke="#808080" stroke-width="3.11"/><line x1="71" y1="94.18" x2="68.14" y2="93.91" stroke="#818181" stroke-width="3.2"/><line x1="72.32" y1="85.34" x2="69.55" y2="84.78" stroke="#838383" stroke-width="3.29"/><line x1="74.55" y1="76.59" x2="71.85" y2="75.77" stroke="#838383" stroke-width="3.28"/><line x1="77.47" y1="68.2" x2="74.79" y2="67.17" stroke="#818181" stroke-width="3.2"/><line x1="80.89" y1="60.23" x2="78.25" y2="58.98" stroke="#808080" stroke-width="3.11"/><line x1="85.04" y1="52.48" x2="82.49" y2="50.94" stroke="#7e7e7e" stroke-width="3.02"/><line x1="90.03" y1="45.32" x2="87.59" y2="43.39" stroke="#797979" stroke-width="2.8"/><line x1="95.8" y1="39.25" x2="93.7" y2="37.02" stroke="#707070" stroke-width="2.38"/><line x1="102.14" y1="34.33" x2="100.53" y2="31.97" stroke="#696969" stroke-width="2.12"/><line x1="108.8" y1="30.67" x2="107.69" y2="28.3" stroke="#646464" stroke-width="1.92"/><line x1="115.84" y1="28.37" x2="115.3" y2="26.24" stroke="#5b5b5b" stroke-width="1.59"/><line x1="122.71" y1="27.62" x2="122.65" y2="26.38" stroke="#585858" stroke-width="1.51"/><line x1="129.4" y1="28.29" x2="129.41" y2="28.25" stroke="#585858" stroke-width="1.5"/><line x1="135.56" y1="30.26" x2="135.59" y2="30.18" stroke="#585858" stroke-width="1.5"/><line x1="138.69" y1="37.66" x2="138.65" y2="37.73" stroke="#585858" stroke-width="1.48"/><line x1="142.02" y1="42.22" x2="141.97" y2="42.28" stroke="#585858" stroke-width="1.52"/><line x1="144.86" y1="47.15" x2="144.09" y2="47.77" stroke="#606060" stroke-width="1.75"/><line x1="147.98" y1="52.35" x2="145.92" y2="53.59" stroke="#696969" stroke-width="2.09"/><line x1="150.85" y1="58.27" x2="147.96" y2="59.61" stroke="#6d6d6d" stroke-width="2.27"/><line x1="153.51" y1="64.72" x2="150.48" y2="65.88" stroke="#6f6f6f" stroke-width="2.35"/><line x1="155.97" y1="71.59" x2="152.87" y2="72.63" stroke="#6e6e6e" stroke-width="2.31"/><line x1="158.21" y1="78.42" x2="155.09" y2="79.43" stroke="#6e6e6e" stroke-width="2.29"/><line x1="160.55" y1="85.56" x2="157.43" y2="86.59" stroke="#6e6e6e" stroke-width="2.29"/><line x1="162.91" y1="92.58" x2="159.8" y2="93.64" stroke="#6e6e6e" stroke-width="2.29"/><line x1="165.33" y1="99.63" x2="162.23" y2="100.71" stroke="#6e6e6e" stroke-width="2.29"/><line x1="167.78" y1="106.59" x2="164.68" y2="107.69" stroke="#6e6e6e" stroke-width="2.29"/><line x1="170.25" y1="113.48" x2="167.16" y2="114.6" stroke="#6e6e6e" stroke-width="2.29"/><line x1="172.79" y1="120.47" x2="169.71" y2="121.6" stroke="#6e6e6e" stroke-width="2.29"/><line x1="175.36" y1="127.45" x2="172.29" y2="128.59" stroke="#6e6e6e" stroke-width="2.29"/><line x1="177.92" y1="134.31" x2="174.85" y2="135.46" stroke="#6e6e6e" stroke-width="2.29"/><line x1="180.61" y1="141.31" x2="177.78" y2="142.38" stroke="#6e6e6e" stroke-width="2.29"/><line x1="183.29" y1="148.2" x2="180.56" y2="149.25" stroke="#6c6c6c" stroke-width="2.24"/><line x1="185.93" y1="154.98" x2="183.2" y2="156.06" stroke="#6c6c6c" stroke-width="2.22"/><line x1="188.67" y1="161.76" x2="186.18" y2="162.75" stroke="#6c6c6c" stroke-width="2.22"/><line x1="191.44" y1="168.53" x2="189.09" y2="169.5" stroke="#6c6c6c" stroke-width="2.22"/><line x1="194.25" y1="175.31" x2="191.92" y2="176.29" stroke="#6c6c6c" stroke-width="2.22"/><line x1="197.14" y1="182.07" x2="194.81" y2="183.07" stroke="#6c6c6c" stroke-width="2.22"/><line x1="200.1" y1="188.8" x2="197.78" y2="189.83" stroke="#6c6c6c" stroke-width="2.22"/><line x1="203.09" y1="195.36" x2="200.76" y2="196.43" stroke="#6b6b6b" stroke-width="2.18"/><line x1="206.22" y1="202.01" x2="203.89" y2="203.13" stroke="#6a6a6a" stroke-width="2.15"/><line x1="209.39" y1="208.49" x2="207.05" y2="209.65" stroke="#696969" stroke-width="2.11"/><line x1="212.69" y1="214.89" x2="210.5" y2="216.02" stroke="#676767" stroke-width="2.04"/><line x1="216.02" y1="221.1" x2="213.98" y2="222.19" stroke="#656565" stroke-width="1.96"/><line x1="219.34" y1="227.14" x2="217.29" y2="228.28" stroke="#656565" stroke-width="1.93"/><line x1="222.83" y1="233.23" x2="220.79" y2="234.43" stroke="#646464" stroke-width="1.9"/><line x1="226.37" y1="239.13" x2="224.31" y2="240.39" stroke="#626262" stroke-width="1.83"/><line x1="230.02" y1="244.96" x2="227.96" y2="246.27" stroke="#616161" stroke-width="1.8"/><line x1="233.73" y1="250.58" x2="231.87" y2="251.82" stroke="#616161" stroke-width="1.8"/><line x1="237.58" y1="256.11" x2="235.88" y2="257.3" stroke="#606060" stroke-width="1.76"/><line x1="241.52" y1="261.59" x2="239.82" y2="262.83" stroke="#5f5f5f" stroke-width="1.73"/><line x1="245.59" y1="266.99" x2="243.91" y2="268.29" stroke="#5e5e5e" stroke-width="1.69"/><line x1="249.62" y1="272.09" x2="247.95" y2="273.44" stroke="#5d5d5d" stroke-width="1.66"/><line x1="253.88" y1="277.21" x2="252.22" y2="278.62" stroke="#5d5d5d" stroke-width="1.64"/><line x1="258.19" y1="282.15" x2="256.54" y2="283.61" stroke="#5c5c5c" stroke-width="1.6"/><line x1="262.53" y1="286.9" x2="260.92" y2="288.4" stroke="#5c5c5c" stroke-width="1.6"/><line x1="267.12" y1="291.67" x2="265.55" y2="293.22" stroke="#5c5c5c" stroke-width="1.6"/><line x1="271.75" y1="296.26" x2="270.22" y2="297.85" stroke="#5c5c5c" stroke-width="1.6"/><line x1="276.44" y1="300.65" x2="275.01" y2="302.19" stroke="#5c5c5c" stroke-width="1.6"/><line x1="281.28" y1="304.98" x2="280.07" y2="306.3" stroke="#5c5c5c" stroke-width="1.62"/><line x1="286.07" y1="309.1" x2="284.73" y2="310.53" stroke="#5e5e5e" stroke-width="1.68"/><line x1="290.92" y1="313.05" x2="289.15" y2="314.76" stroke="#606060" stroke-width="1.74"/><line x1="294.71" y1="318.08" x2="293.23" y2="319.29" stroke="#616161" stroke-width="1.81"/><line x1="297.8" y1="323.27" x2="296.52" y2="324.07" stroke="#646464" stroke-width="1.91"/><line x1="300.05" y1="328.64" x2="298.6" y2="329.2" stroke="#686868" stroke-width="2.06"/><line x1="301.27" y1="334.23" x2="299.52" y2="334.45" stroke="#6b6b6b" stroke-width="2.21"/><line x1="301.21" y1="339.97" x2="299.18" y2="339.75" stroke="#6f6f6f" stroke-width="2.35"/><line x1="299.88" y1="346.09" x2="297.75" y2="345.44" stroke="#717171" stroke-width="2.45"/><line x1="297.47" y1="352.08" x2="295.51" y2="351.06" stroke="#717171" stroke-width="2.44"/><line x1="294.35" y1="357.23" x2="292.79" y2="355.92" stroke="#6f6f6f" stroke-width="2.37"/><line x1="290.64" y1="361.25" x2="289.72" y2="359.77" stroke="#6a6a6a" stroke-width="2.17"/><line x1="286.41" y1="363.46" x2="286.2" y2="362.12" stroke="#646464" stroke-width="1.93"/><line x1="281.37" y1="364.22" x2="281.39" y2="364.14" stroke="#626262" stroke-width="1.83"/><line x1="272.55" y1="368.63" x2="272.51" y2="368.7" stroke="#5d5d5d" stroke-width="1.65"/><line x1="266.79" y1="364.09" x2="265.46" y2="365.33" stroke="#5d5d5d" stroke-width="1.64"/><line x1="262.4" y1="358.63" x2="261.18" y2="359.5" stroke="#606060" stroke-width="1.77"/><line x1="258.6" y1="352.88" x2="257.38" y2="353.63" stroke="#636363" stroke-width="1.86"/><line x1="255.06" y1="346.99" x2="253.83" y2="347.72" stroke="#636363" stroke-width="1.86"/><line x1="251.6" y1="341.21" x2="250.37" y2="341.95" stroke="#636363" stroke-width="1.86"/><line x1="248.05" y1="335.38" x2="246.83" y2="336.13" stroke="#636363" stroke-width="1.86"/><line x1="244.5" y1="329.67" x2="243.29" y2="330.44" stroke="#636363" stroke-width="1.86"/><line x1="240.9" y1="324.03" x2="239.69" y2="324.81" stroke="#626262" stroke-width="1.85"/><line x1="237.23" y1="318.41" x2="236.01" y2="319.22" stroke="#626262" stroke-width="1.83"/><line x1="233.49" y1="312.83" x2="232.27" y2="313.65" stroke="#616161" stroke-width="1.81"/><line x1="229.76" y1="307.38" x2="228.54" y2="308.22" stroke="#616161" stroke-width="1.8"/><line x1="225.98" y1="301.95" x2="224.77" y2="302.81" stroke="#616161" stroke-width="1.8"/><line x1="222.16" y1="296.55" x2="220.95" y2="297.4" stroke="#616161" stroke-width="1.81"/><line x1="218.19" y1="291.05" x2="217.03" y2="291.89" stroke="#636363" stroke-width="1.86"/><line x1="214.2" y1="285.56" x2="213.05" y2="286.4" stroke="#636363" stroke-width="1.86"/><line x1="210.27" y1="280.19" x2="209.11" y2="281.04" stroke="#636363" stroke-width="1.86"/><line x1="206.23" y1="274.71" x2="205.07" y2="275.57" stroke="#636363" stroke-width="1.86"/><line x1="202.27" y1="269.35" x2="201.08" y2="270.24" stroke="#616161" stroke-width="1.8"/><line x1="198.28" y1="264.02" x2="197.08" y2="264.92" stroke="#616161" stroke-width="1.8"/><line x1="194.26" y1="258.71" x2="193.02" y2="259.65" stroke="#616161" stroke-width="1.8"/><line x1="190.22" y1="253.41" x2="188.93" y2="254.4" stroke="#616161" stroke-width="1.8"/><line x1="186.15" y1="248.14" x2="184.81" y2="249.17" stroke="#616161" stroke-width="1.8"/><line x1="182.05" y1="242.9" x2="180.67" y2="243.98" stroke="#616161" stroke-width="1.8"/><line x1="177.93" y1="237.68" x2="176.51" y2="238.8" stroke="#616161" stroke-width="1.79"/><line x1="173.8" y1="232.47" x2="172.35" y2="233.64" stroke="#5f5f5f" stroke-width="1.72"/><line x1="169.72" y1="227.41" x2="168.24" y2="228.62" stroke="#5d5d5d" stroke-width="1.66"/><line x1="165.69" y1="222.49" x2="164.18" y2="223.74" stroke="#5c5c5c" stroke-width="1.6"/><line x1="161.61" y1="217.61" x2="160.11" y2="218.88" stroke="#5c5c5c" stroke-width="1.6"/><line x1="157.49" y1="212.78" x2="156" y2="214.06" stroke="#5c5c5c" stroke-width="1.6"/><line x1="153.33" y1="207.98" x2="151.86" y2="209.28" stroke="#5c5c5c" stroke-width="1.6"/><line x1="149.13" y1="203.23" x2="147.66" y2="204.54" stroke="#5c5c5c" stroke-width="1.6"/><line x1="144.88" y1="198.53" x2="143.43" y2="199.85" stroke="#5c5c5c" stroke-width="1.6"/><line x1="140.58" y1="193.87" x2="139.14" y2="195.21" stroke="#5c5c5c" stroke-width="1.6"/><line x1="136.32" y1="189.36" x2="134.9" y2="190.72" stroke="#5c5c5c" stroke-width="1.6"/><line x1="131.92" y1="184.81" x2="130.51" y2="186.18" stroke="#5c5c5c" stroke-width="1.6"/><line x1="127.47" y1="180.29" x2="126.05" y2="181.72" stroke="#5a5a5a" stroke-width="1.58"/><line x1="123.05" y1="175.94" x2="121.65" y2="177.38" stroke="#5a5a5a" stroke-width="1.57"/><line x1="118.58" y1="171.63" x2="117.19" y2="173.08" stroke="#5a5a5a" stroke-width="1.57"/><line x1="113.96" y1="167.24" x2="112.58" y2="168.71" stroke="#5a5a5a" stroke-width="1.57"/><line x1="109.42" y1="162.97" x2="108.04" y2="164.44" stroke="#5a5a5a" stroke-width="1.57"/><line x1="104.86" y1="158.71" x2="103.48" y2="160.18" stroke="#5a5a5a" stroke-width="1.57"/><line x1="100.29" y1="154.43" x2="98.91" y2="155.9" stroke="#5a5a5a" stroke-width="1.57"/><line x1="95.62" y1="150.06" x2="94.26" y2="151.49" stroke="#5b5b5b" stroke-width="1.6"/><line x1="90.91" y1="145.64" x2="89.5" y2="147.07" stroke="#5f5f5f" stroke-width="1.72"/><line x1="85.95" y1="140.72" x2="84.25" y2="142.25" stroke="#666666" stroke-width="1.99"/><line x1="80.96" y1="134.87" x2="78.9" y2="136.36" stroke="#6d6d6d" stroke-width="2.28"/><line x1="76.66" y1="128.09" x2="74.04" y2="129.4" stroke="#717171" stroke-width="2.44"/><line x1="73.45" y1="120.19" x2="70.51" y2="121.08" stroke="#757575" stroke-width="2.6"/><line x1="71.5" y1="111.86" x2="68.46" y2="112.32" stroke="#7a7a7a" stroke-width="2.85"/></g>
<g fill="#e4e4e4" stroke="#161616" stroke-width="0.9"><circle cx="75.26" cy="102.99" r="2.63"/><circle cx="75.56" cy="94.62" r="2.64"/><circle cx="76.83" cy="86.27" r="2.66"/><circle cx="78.96" cy="77.93" r="2.66"/><circle cx="81.75" cy="69.85" r="2.65"/><circle cx="85.02" cy="62.18" r="2.63"/><circle cx="88.94" cy="54.83" r="2.61"/><circle cx="93.56" cy="48.11" r="2.57"/><circle cx="98.77" cy="42.41" r="2.48"/><circle cx="104.5" cy="37.79" r="2.42"/><circle cx="110.51" cy="34.36" r="2.37"/><circle cx="116.79" cy="32.1" r="2.28"/><circle cx="122.87" cy="31.19" r="2.23"/><circle cx="128.84" cy="31.58" r="2.22"/><circle cx="134.5" cy="33.11" r="2.22"/><circle cx="139.87" cy="35.68" r="2.21"/><circle cx="144.67" cy="39.19" r="2.23"/><circle cx="149.04" cy="43.75" r="2.33"/><circle cx="152.95" cy="49.37" r="2.41"/><circle cx="156.3" cy="55.73" r="2.45"/><circle cx="159.17" cy="62.56" r="2.47"/><circle cx="161.7" cy="69.65" r="2.46"/><circle cx="163.97" cy="76.56" r="2.46"/><circle cx="166.29" cy="83.66" r="2.46"/><circle cx="168.63" cy="90.64" r="2.46"/><circle cx="171.04" cy="97.64" r="2.46"/><circle cx="173.48" cy="104.56" r="2.46"/><circle cx="175.93" cy="111.43" r="2.46"/><circle cx="178.47" cy="118.39" r="2.46"/><circle cx="181.03" cy="125.34" r="2.46"/><circle cx="183.58" cy="132.18" r="2.46"/><circle cx="186.22" cy="139.18" r="2.46"/><circle cx="188.85" cy="146.06" r="2.45"/><circle cx="191.47" cy="152.81" r="2.44"/><circle cx="194.15" cy="159.56" r="2.44"/><circle cx="196.88" cy="166.3" r="2.44"/><circle cx="199.67" cy="173.03" r="2.44"/><circle cx="202.53" cy="179.73" r="2.44"/><circle cx="205.46" cy="186.4" r="2.44"/><circle cx="208.42" cy="192.9" r="2.43"/><circle cx="211.51" cy="199.49" r="2.42"/><circle cx="214.63" cy="205.89" r="2.42"/><circle cx="217.84" cy="212.23" r="2.4"/><circle cx="221.07" cy="218.38" r="2.38"/><circle cx="224.34" cy="224.34" r="2.37"/><circle cx="227.77" cy="230.35" r="2.36"/><circle cx="231.24" cy="236.16" r="2.35"/><circle cx="234.82" cy="241.9" r="2.34"/><circle cx="238.43" cy="247.44" r="2.34"/><circle cx="242.17" cy="252.9" r="2.33"/><circle cx="246.03" cy="258.28" r="2.32"/><circle cx="250.01" cy="263.58" r="2.31"/><circle cx="253.96" cy="268.58" r="2.3"/><circle cx="258.12" cy="273.61" r="2.3"/><circle cx="262.33" cy="278.45" r="2.29"/><circle cx="266.58" cy="283.1" r="2.29"/><circle cx="271.07" cy="287.77" r="2.29"/><circle cx="275.61" cy="292.26" r="2.29"/><circle cx="280.18" cy="296.57" r="2.29"/><circle cx="284.96" cy="300.91" r="2.29"/><circle cx="289.69" cy="305.26" r="2.31"/><circle cx="294.3" cy="309.78" r="2.33"/><circle cx="298.77" cy="314.75" r="2.34"/><circle cx="302.71" cy="320.21" r="2.37"/><circle cx="305.84" cy="326.4" r="2.4"/><circle cx="307.64" cy="333.39" r="2.44"/><circle cx="307.71" cy="340.65" r="2.47"/><circle cx="306.2" cy="348.01" r="2.49"/><circle cx="303.31" cy="355.11" r="2.49"/><circle cx="299.24" cy="361.31" r="2.48"/><circle cx="293.71" cy="366.22" r="2.43"/><circle cx="287.19" cy="368.63" r="2.37"/><circle cx="280.38" cy="368.32" r="2.35"/><circle cx="274.46" cy="365.73" r="2.3"/><circle cx="269.58" cy="361.5" r="2.3"/><circle cx="265.5" cy="356.43" r="2.33"/><circle cx="261.86" cy="350.87" r="2.36"/><circle cx="258.35" cy="345.03" r="2.36"/><circle cx="254.88" cy="339.23" r="2.36"/><circle cx="251.31" cy="333.37" r="2.36"/><circle cx="247.74" cy="327.63" r="2.36"/><circle cx="244.11" cy="321.95" r="2.35"/><circle cx="240.41" cy="316.3" r="2.35"/><circle cx="236.64" cy="310.69" r="2.34"/><circle cx="232.9" cy="305.21" r="2.34"/><circle cx="229.1" cy="299.76" r="2.34"/><circle cx="225.26" cy="294.33" r="2.34"/><circle cx="221.29" cy="288.81" r="2.36"/><circle cx="217.3" cy="283.3" r="2.36"/><circle cx="213.35" cy="277.92" r="2.36"/><circle cx="209.31" cy="272.44" r="2.35"/><circle cx="205.32" cy="267.08" r="2.34"/><circle cx="201.33" cy="261.73" r="2.34"/><circle cx="197.31" cy="256.4" r="2.34"/><circle cx="193.26" cy="251.08" r="2.34"/><circle cx="189.19" cy="245.79" r="2.34"/><circle cx="185.09" cy="240.52" r="2.34"/><circle cx="180.96" cy="235.27" r="2.34"/><circle cx="176.8" cy="230.06" r="2.32"/><circle cx="172.68" cy="224.98" r="2.3"/><circle cx="168.62" cy="220.05" r="2.29"/><circle cx="164.52" cy="215.15" r="2.29"/><circle cx="160.38" cy="210.29" r="2.29"/><circle cx="156.2" cy="205.47" r="2.29"/><circle cx="151.97" cy="200.69" r="2.29"/><circle cx="147.69" cy="195.96" r="2.29"/><circle cx="143.36" cy="191.27" r="2.29"/><circle cx="139.08" cy="186.73" r="2.29"/><circle cx="134.64" cy="182.14" r="2.29"/><circle cx="130.15" cy="177.61" r="2.27"/><circle cx="125.7" cy="173.22" r="2.27"/><circle cx="121.2" cy="168.89" r="2.27"/><circle cx="116.56" cy="164.49" r="2.27"/><circle cx="112.01" cy="160.21" r="2.27"/><circle cx="107.45" cy="155.94" r="2.27"/><circle cx="102.88" cy="151.67" r="2.27"/><circle cx="98.23" cy="147.29" r="2.29"/><circle cx="93.63" cy="142.87" r="2.32"/><circle cx="88.94" cy="138.02" r="2.39"/><circle cx="84.37" cy="132.41" r="2.45"/><circle cx="80.53" cy="126.14" r="2.49"/><circle cx="77.68" cy="118.92" r="2.53"/><circle cx="75.96" cy="111.19" r="2.58"/></g>
<g fill="#9a9a9a"><circle cx="75.26" cy="102.99" r="0.5"/><circle cx="75.56" cy="94.62" r="0.51"/><circle cx="76.83" cy="86.27" r="0.52"/><circle cx="78.96" cy="77.93" r="0.52"/><circle cx="81.75" cy="69.85" r="0.51"/><circle cx="85.02" cy="62.18" r="0.5"/><circle cx="88.94" cy="54.83" r="0.5"/><circle cx="93.56" cy="48.11" r="0.48"/><circle cx="98.77" cy="42.41" r="0.45"/><circle cx="104.5" cy="37.79" r="0.43"/><circle cx="110.51" cy="34.36" r="0.41"/><circle cx="116.79" cy="32.1" r="0.38"/><circle cx="122.87" cy="31.19" r="0.36"/><circle cx="128.84" cy="31.58" r="0.36"/><circle cx="134.5" cy="33.11" r="0.36"/><circle cx="139.87" cy="35.68" r="0.36"/><circle cx="144.67" cy="39.19" r="0.36"/><circle cx="149.04" cy="43.75" r="0.4"/><circle cx="152.95" cy="49.37" r="0.43"/><circle cx="156.3" cy="55.73" r="0.44"/><circle cx="159.17" cy="62.56" r="0.45"/><circle cx="161.7" cy="69.65" r="0.45"/><circle cx="163.97" cy="76.56" r="0.44"/><circle cx="166.29" cy="83.66" r="0.44"/><circle cx="168.63" cy="90.64" r="0.44"/><circle cx="171.04" cy="97.64" r="0.44"/><circle cx="173.48" cy="104.56" r="0.44"/><circle cx="175.93" cy="111.43" r="0.44"/><circle cx="178.47" cy="118.39" r="0.44"/><circle cx="181.03" cy="125.34" r="0.44"/><circle cx="183.58" cy="132.18" r="0.44"/><circle cx="186.22" cy="139.18" r="0.44"/><circle cx="188.85" cy="146.06" r="0.44"/><circle cx="191.47" cy="152.81" r="0.44"/><circle cx="194.15" cy="159.56" r="0.44"/><circle cx="196.88" cy="166.3" r="0.44"/><circle cx="199.67" cy="173.03" r="0.44"/><circle cx="202.53" cy="179.73" r="0.44"/><circle cx="205.46" cy="186.4" r="0.44"/><circle cx="208.42" cy="192.9" r="0.43"/><circle cx="211.51" cy="199.49" r="0.43"/><circle cx="214.63" cy="205.89" r="0.43"/><circle cx="217.84" cy="212.23" r="0.42"/><circle cx="221.07" cy="218.38" r="0.42"/><circle cx="224.34" cy="224.34" r="0.41"/><circle cx="227.77" cy="230.35" r="0.41"/><circle cx="231.24" cy="236.16" r="0.41"/><circle cx="234.82" cy="241.9" r="0.4"/><circle cx="238.43" cy="247.44" r="0.4"/><circle cx="242.17" cy="252.9" r="0.4"/><circle cx="246.03" cy="258.28" r="0.4"/><circle cx="250.01" cy="263.58" r="0.39"/><circle cx="253.96" cy="268.58" r="0.39"/><circle cx="258.12" cy="273.61" r="0.39"/><circle cx="262.33" cy="278.45" r="0.38"/><circle cx="266.58" cy="283.1" r="0.38"/><circle cx="271.07" cy="287.77" r="0.38"/><circle cx="275.61" cy="292.26" r="0.38"/><circle cx="280.18" cy="296.57" r="0.38"/><circle cx="284.96" cy="300.91" r="0.39"/><circle cx="289.69" cy="305.26" r="0.39"/><circle cx="294.3" cy="309.78" r="0.4"/><circle cx="298.77" cy="314.75" r="0.4"/><circle cx="302.71" cy="320.21" r="0.41"/><circle cx="305.84" cy="326.4" r="0.43"/><circle cx="307.64" cy="333.39" r="0.44"/><circle cx="307.71" cy="340.65" r="0.45"/><circle cx="306.2" cy="348.01" r="0.46"/><circle cx="303.31" cy="355.11" r="0.46"/><circle cx="299.24" cy="361.31" r="0.45"/><circle cx="293.71" cy="366.22" r="0.43"/><circle cx="287.19" cy="368.63" r="0.41"/><circle cx="280.38" cy="368.32" r="0.4"/><circle cx="274.46" cy="365.73" r="0.39"/><circle cx="269.58" cy="361.5" r="0.39"/><circle cx="265.5" cy="356.43" r="0.4"/><circle cx="261.86" cy="350.87" r="0.41"/><circle cx="258.35" cy="345.03" r="0.41"/><circle cx="254.88" cy="339.23" r="0.41"/><circle cx="251.31" cy="333.37" r="0.41"/><circle cx="247.74" cy="327.63" r="0.41"/><circle cx="244.11" cy="321.95" r="0.41"/><circle cx="240.41" cy="316.3" r="0.41"/><circle cx="236.64" cy="310.69" r="0.4"/><circle cx="232.9" cy="305.21" r="0.4"/><circle cx="229.1" cy="299.76" r="0.4"/><circle cx="225.26" cy="294.33" r="0.4"/><circle cx="221.29" cy="288.81" r="0.41"/><circle cx="217.3" cy="283.3" r="0.41"/><circle cx="213.35" cy="277.92" r="0.41"/><circle cx="209.31" cy="272.44" r="0.41"/><circle cx="205.32" cy="267.08" r="0.4"/><circle cx="201.33" cy="261.73" r="0.4"/><circle cx="197.31" cy="256.4" r="0.4"/><circle cx="193.26" cy="251.08" r="0.4"/><circle cx="189.19" cy="245.79" r="0.4"/><circle cx="185.09" cy="240.52" r="0.4"/><circle cx="180.96" cy="235.27" r="0.4"/><circle cx="176.8" cy="230.06" r="0.4"/><circle cx="172.68" cy="224.98" r="0.39"/><circle cx="168.62" cy="220.05" r="0.38"/><circle cx="164.52" cy="215.15" r="0.38"/><circle cx="160.38" cy="210.29" r="0.38"/><circle cx="156.2" cy="205.47" r="0.38"/><circle cx="151.97" cy="200.69" r="0.38"/><circle cx="147.69" cy="195.96" r="0.38"/><circle cx="143.36" cy="191.27" r="0.38"/><circle cx="139.08" cy="186.73" r="0.38"/><circle cx="134.64" cy="182.14" r="0.38"/><circle cx="130.15" cy="177.61" r="0.38"/><circle cx="125.7" cy="173.22" r="0.38"/><circle cx="121.2" cy="168.89" r="0.38"/><circle cx="116.56" cy="164.49" r="0.38"/><circle cx="112.01" cy="160.21" r="0.38"/><circle cx="107.45" cy="155.94" r="0.38"/><circle cx="102.88" cy="151.67" r="0.38"/><circle cx="98.23" cy="147.29" r="0.38"/><circle cx="93.63" cy="142.87" r="0.4"/><circle cx="88.94" cy="138.02" r="0.42"/><circle cx="84.37" cy="132.41" r="0.44"/><circle cx="80.53" cy="126.14" r="0.46"/><circle cx="77.68" cy="118.92" r="0.47"/><circle cx="75.96" cy="111.19" r="0.49"/></g>
</g>
<path d="M32.5 395.5L44.5 379.8L46.9 386.2L48.6 394.5L48.9 398.9Z" fill="#fff" stroke="#282828" stroke-width="0.8" stroke-linejoin="round" /><path d="M32.5 395.5L35.2 397.4L48.9 398.9" fill="none" stroke="#282828" stroke-width="0.7" stroke-linejoin="round" /><line x1="34.6" y1="394.6" x2="45.2" y2="381.6" stroke="#282828" stroke-width="0.6"/><path d="M46.8 383.5L61.1 374.2L65.2 376.5L49.6 386.3Z" fill="#fff" stroke="#282828" stroke-width="0.8" stroke-linejoin="round" /><path d="M47 386.6L65.2 376.5L65.7 385.3L48.6 394.5Z" fill="#fff" stroke="#282828" stroke-width="0.8" stroke-linejoin="round" /><g filter="url(#noLcd)"><text class="fwd" stroke="#111" stroke-width="0.45" transform="translate(48.9 392.6) rotate(-28.5) skewX(-10) scale(0.9 1.22)">FWD</text></g>
<line x1="177.6" y1="36.4" x2="157.5" y2="49.3" stroke="#282828" stroke-width="0.9"/><line x1="352.3" y1="79.1" x2="330.9" y2="92.5" stroke="#282828" stroke-width="0.9"/><line x1="424.9" y1="77.3" x2="400.7" y2="92.5" stroke="#282828" stroke-width="0.9"/><line x1="314" y1="204.6" x2="334.6" y2="153.6" stroke="#282828" stroke-width="0.9"/><line x1="314" y1="204.6" x2="338" y2="189.4" stroke="#282828" stroke-width="0.9"/><line x1="475.4" y1="166.4" x2="450.7" y2="182.1" stroke="#282828" stroke-width="0.9"/><line x1="252.8" y1="189.9" x2="275.6" y2="176.3" stroke="#282828" stroke-width="0.9"/><line x1="232.4" y1="92" x2="211.5" y2="105.8" stroke="#282828" stroke-width="0.9"/><line x1="510.7" y1="185.2" x2="487" y2="199.2" stroke="#282828" stroke-width="0.9"/><line x1="405.9" y1="280.8" x2="431.2" y2="265.4" stroke="#282828" stroke-width="0.9"/>
<g filter="url(#noLcd)">
<text x="180.6" y="37.5" class="lb">1</text><line x1="181" y1="40.5" x2="188" y2="40.5" stroke="#1466b6" stroke-width="1" stroke-dasharray="1 1"/>
<text x="353.1" y="81.3" class="lb">2</text><line x1="353" y1="84.5" x2="360" y2="84.5" stroke="#1466b6" stroke-width="1" stroke-dasharray="1 1"/>
<text x="428.2" y="79.7" class="lb">3</text><line x1="428" y1="82.5" x2="435" y2="82.5" stroke="#1466b6" stroke-width="1" stroke-dasharray="1 1"/>
<text x="303.9" y="210.6" class="lb">4</text><line x1="304" y1="213.5" x2="311" y2="213.5" stroke="#1466b6" stroke-width="1" stroke-dasharray="1 1"/>
<text x="476.3" y="169.7" class="lb">5</text><line x1="476" y1="172.5" x2="483" y2="172.5" stroke="#1466b6" stroke-width="1" stroke-dasharray="1 1"/>
<text x="244.6" y="195.2" class="lb">6</text><line x1="245" y1="198.5" x2="252" y2="198.5" stroke="#1466b6" stroke-width="1" stroke-dasharray="1 1"/>
<text x="234" y="93.7" class="lb">7</text><line x1="234" y1="96.5" x2="241" y2="96.5" stroke="#1466b6" stroke-width="1" stroke-dasharray="1 1"/>
<text x="512" y="187.7" class="lb">8</text><line x1="512" y1="190.5" x2="519" y2="190.5" stroke="#1466b6" stroke-width="1" stroke-dasharray="1 1"/>
<text x="394.3" y="285.4" class="lb">9</text><line x1="394" y1="288.5" x2="401" y2="288.5" stroke="#1466b6" stroke-width="1" stroke-dasharray="1 1"/>
</g>
</svg>
</body></html>
